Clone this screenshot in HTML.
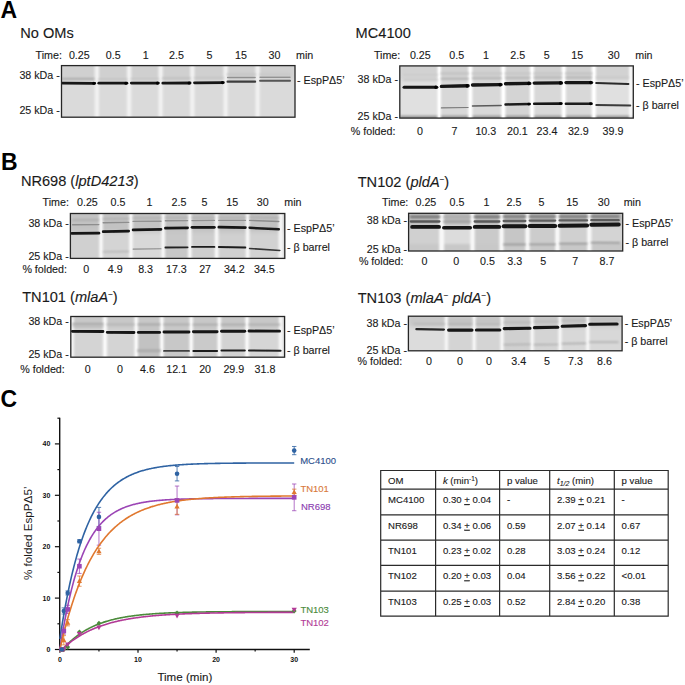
<!DOCTYPE html>
<html><head><meta charset="utf-8"><title>Figure</title>
<style>html,body{margin:0;padding:0;background:#fff;width:685px;height:685px;overflow:hidden}svg{display:block}</style>
</head><body>
<svg width="685" height="685" viewBox="0 0 685 685" font-family='"Liberation Sans", sans-serif'>
<defs>
<filter id="bl05" filterUnits="userSpaceOnUse" x="0" y="0" width="685" height="685"><feGaussianBlur stdDeviation="0.45"/></filter>
<filter id="bl08" filterUnits="userSpaceOnUse" x="0" y="0" width="685" height="685"><feGaussianBlur stdDeviation="0.8"/></filter>
<filter id="bl2" filterUnits="userSpaceOnUse" x="0" y="0" width="685" height="685"><feGaussianBlur stdDeviation="2"/></filter>
<filter id="bl1" filterUnits="userSpaceOnUse" x="0" y="0" width="685" height="685"><feGaussianBlur stdDeviation="0.9"/></filter>
<linearGradient id="vshade" x1="0" y1="0" x2="0" y2="1"><stop offset="0" stop-color="#000"/><stop offset="0.35" stop-color="#000" stop-opacity="0.2"/><stop offset="0.85" stop-color="#000" stop-opacity="0"/><stop offset="1" stop-color="#000" stop-opacity="0.5"/></linearGradient>
<clipPath id="cg1"><rect x="61.5" y="65.6" width="233.5" height="51.60000000000001"/></clipPath><clipPath id="cg2"><rect x="399.8" y="65.9" width="233.49999999999994" height="52.19999999999999"/></clipPath><clipPath id="cg3"><rect x="70.4" y="213.5" width="214.4" height="44.89999999999998"/></clipPath><clipPath id="cg4"><rect x="408.6" y="213.3" width="214.10000000000002" height="37.69999999999999"/></clipPath><clipPath id="cg5"><rect x="70.8" y="316.5" width="213.8" height="40.69999999999999"/></clipPath><clipPath id="cg6"><rect x="408.4" y="316.2" width="213.70000000000005" height="34.60000000000002"/></clipPath>
</defs>
<rect width="685" height="685" fill="#fff"/>
<text x="0.60" y="17.70" font-size="23" font-weight="bold" fill="#000">A</text>
<text x="20.20" y="38.00" font-size="14.6" fill="#1a1a1a" stroke="#1a1a1a" stroke-width="0.12">No OMs</text>
<text x="355.60" y="38.30" font-size="14.6" fill="#1a1a1a" stroke="#1a1a1a" stroke-width="0.12">MC4100</text>
<text x="35.60" y="58.60" font-size="10.7" fill="#1a1a1a" stroke="#1a1a1a" stroke-width="0.12">Time:</text>
<text x="79.30" y="58.60" font-size="10.7" text-anchor="middle" fill="#1a1a1a" stroke="#1a1a1a" stroke-width="0.12">0.25</text>
<text x="113.20" y="58.60" font-size="10.7" text-anchor="middle" fill="#1a1a1a" stroke="#1a1a1a" stroke-width="0.12">0.5</text>
<text x="145.80" y="58.60" font-size="10.7" text-anchor="middle" fill="#1a1a1a" stroke="#1a1a1a" stroke-width="0.12">1</text>
<text x="176.40" y="58.60" font-size="10.7" text-anchor="middle" fill="#1a1a1a" stroke="#1a1a1a" stroke-width="0.12">2.5</text>
<text x="209.40" y="58.60" font-size="10.7" text-anchor="middle" fill="#1a1a1a" stroke="#1a1a1a" stroke-width="0.12">5</text>
<text x="241.00" y="58.60" font-size="10.7" text-anchor="middle" fill="#1a1a1a" stroke="#1a1a1a" stroke-width="0.12">15</text>
<text x="274.50" y="58.60" font-size="10.7" text-anchor="middle" fill="#1a1a1a" stroke="#1a1a1a" stroke-width="0.12">30</text>
<text x="296.00" y="58.60" font-size="10.7" fill="#1a1a1a" stroke="#1a1a1a" stroke-width="0.12">min</text>
<text x="373.90" y="59.40" font-size="10.7" fill="#1a1a1a" stroke="#1a1a1a" stroke-width="0.12">Time:</text>
<text x="420.30" y="59.40" font-size="10.7" text-anchor="middle" fill="#1a1a1a" stroke="#1a1a1a" stroke-width="0.12">0.25</text>
<text x="456.70" y="59.40" font-size="10.7" text-anchor="middle" fill="#1a1a1a" stroke="#1a1a1a" stroke-width="0.12">0.5</text>
<text x="486.00" y="59.40" font-size="10.7" text-anchor="middle" fill="#1a1a1a" stroke="#1a1a1a" stroke-width="0.12">1</text>
<text x="517.70" y="59.40" font-size="10.7" text-anchor="middle" fill="#1a1a1a" stroke="#1a1a1a" stroke-width="0.12">2.5</text>
<text x="546.70" y="59.40" font-size="10.7" text-anchor="middle" fill="#1a1a1a" stroke="#1a1a1a" stroke-width="0.12">5</text>
<text x="577.20" y="59.40" font-size="10.7" text-anchor="middle" fill="#1a1a1a" stroke="#1a1a1a" stroke-width="0.12">15</text>
<text x="613.70" y="59.40" font-size="10.7" text-anchor="middle" fill="#1a1a1a" stroke="#1a1a1a" stroke-width="0.12">30</text>
<text x="635.30" y="59.40" font-size="10.7" fill="#1a1a1a" stroke="#1a1a1a" stroke-width="0.12">min</text>
<text x="59.80" y="78.50" font-size="10.7" text-anchor="end" fill="#1a1a1a" stroke="#1a1a1a" stroke-width="0.12">38 kDa -</text>
<text x="59.80" y="113.50" font-size="10.7" text-anchor="end" fill="#1a1a1a" stroke="#1a1a1a" stroke-width="0.12">25 kDa -</text>
<text x="398.00" y="82.80" font-size="10.7" text-anchor="end" fill="#1a1a1a" stroke="#1a1a1a" stroke-width="0.12">38 kDa -</text>
<text x="398.00" y="120.20" font-size="10.7" text-anchor="end" fill="#1a1a1a" stroke="#1a1a1a" stroke-width="0.12">25 kDa -</text>
<text x="297.00" y="84.10" font-size="10.7" fill="#1a1a1a" stroke="#1a1a1a" stroke-width="0.12">- EspPΔ5’</text>
<text x="636.00" y="86.60" font-size="10.7" fill="#1a1a1a" stroke="#1a1a1a" stroke-width="0.12">- EspPΔ5’</text>
<text x="636.00" y="109.00" font-size="10.7" fill="#1a1a1a" stroke="#1a1a1a" stroke-width="0.12">- β barrel</text>
<text x="350.80" y="134.50" font-size="10.7" fill="#1a1a1a" stroke="#1a1a1a" stroke-width="0.12">% folded:</text>
<text x="420.10" y="134.50" font-size="10.7" text-anchor="middle" fill="#1a1a1a" stroke="#1a1a1a" stroke-width="0.12">0</text>
<text x="454.60" y="134.50" font-size="10.7" text-anchor="middle" fill="#1a1a1a" stroke="#1a1a1a" stroke-width="0.12">7</text>
<text x="485.80" y="134.50" font-size="10.7" text-anchor="middle" fill="#1a1a1a" stroke="#1a1a1a" stroke-width="0.12">10.3</text>
<text x="517.40" y="134.50" font-size="10.7" text-anchor="middle" fill="#1a1a1a" stroke="#1a1a1a" stroke-width="0.12">20.1</text>
<text x="547.00" y="134.50" font-size="10.7" text-anchor="middle" fill="#1a1a1a" stroke="#1a1a1a" stroke-width="0.12">23.4</text>
<text x="578.30" y="134.50" font-size="10.7" text-anchor="middle" fill="#1a1a1a" stroke="#1a1a1a" stroke-width="0.12">32.9</text>
<text x="613.00" y="134.50" font-size="10.7" text-anchor="middle" fill="#1a1a1a" stroke="#1a1a1a" stroke-width="0.12">39.9</text>
<g clip-path="url(#cg1)">
<rect x="61.5" y="65.6" width="233.5" height="51.60000000000001" fill="#dadada"/>
<rect x="61.5" y="62.599999999999994" width="233.5" height="17.400000000000006" fill="#d0d0d0" filter="url(#bl2)"/>
<rect x="94.50" y="63.599999999999994" width="4.60" height="55.60000000000001" fill="#f0f0f0" filter="url(#bl1)"/>
<rect x="95.79" y="63.599999999999994" width="2.02" height="55.60000000000001" fill="#f0f0f0" opacity="0.8" filter="url(#bl05)"/>
<rect x="126.80" y="63.599999999999994" width="4.60" height="55.60000000000001" fill="#f0f0f0" filter="url(#bl1)"/>
<rect x="128.09" y="63.599999999999994" width="2.02" height="55.60000000000001" fill="#f0f0f0" opacity="0.8" filter="url(#bl05)"/>
<rect x="158.30" y="63.599999999999994" width="4.60" height="55.60000000000001" fill="#f0f0f0" filter="url(#bl1)"/>
<rect x="159.59" y="63.599999999999994" width="2.02" height="55.60000000000001" fill="#f0f0f0" opacity="0.8" filter="url(#bl05)"/>
<rect x="190.00" y="63.599999999999994" width="4.60" height="55.60000000000001" fill="#f0f0f0" filter="url(#bl1)"/>
<rect x="191.29" y="63.599999999999994" width="2.02" height="55.60000000000001" fill="#f0f0f0" opacity="0.8" filter="url(#bl05)"/>
<rect x="223.30" y="63.599999999999994" width="4.60" height="55.60000000000001" fill="#f0f0f0" filter="url(#bl1)"/>
<rect x="224.59" y="63.599999999999994" width="2.02" height="55.60000000000001" fill="#f0f0f0" opacity="0.8" filter="url(#bl05)"/>
<rect x="255.30" y="63.599999999999994" width="4.60" height="55.60000000000001" fill="#f0f0f0" filter="url(#bl1)"/>
<rect x="256.59" y="63.599999999999994" width="2.02" height="55.60000000000001" fill="#f0f0f0" opacity="0.8" filter="url(#bl05)"/>
<path d="M62.50,83.10 L94.80,83.30" stroke="#151515" stroke-width="2.8000000000000003" stroke-linecap="round" fill="none" filter="url(#bl05)"/>
<ellipse cx="93.80" cy="83.30" rx="1.6" ry="1.57" fill="#050505" filter="url(#bl05)"/>
<path d="M62.50,78.80 L93.80,78.80" stroke="#a4a4a4" stroke-width="1.8" stroke-linecap="round" fill="none" filter="url(#bl08)"/>
<path d="M98.80,83.20 L126.90,83.20" stroke="#151515" stroke-width="2.8000000000000003" stroke-linecap="round" fill="none" filter="url(#bl05)"/>
<ellipse cx="125.90" cy="83.20" rx="1.6" ry="1.57" fill="#050505" filter="url(#bl05)"/>
<path d="M99.00,79.20 L126.90,79.20" stroke="#bcbcbc" stroke-width="1.6" stroke-linecap="round" fill="none" filter="url(#bl08)"/>
<path d="M131.30,83.10 L158.40,83.10" stroke="#151515" stroke-width="2.8000000000000003" stroke-linecap="round" fill="none" filter="url(#bl05)"/>
<ellipse cx="157.40" cy="83.10" rx="1.6" ry="1.57" fill="#050505" filter="url(#bl05)"/>
<path d="M131.30,78.80 L158.40,78.80" stroke="#c0c0c0" stroke-width="1.6" stroke-linecap="round" fill="none" filter="url(#bl08)"/>
<path d="M162.80,83.20 L190.10,83.00" stroke="#151515" stroke-width="2.8000000000000003" stroke-linecap="round" fill="none" filter="url(#bl05)"/>
<ellipse cx="189.10" cy="83.00" rx="1.6" ry="1.57" fill="#050505" filter="url(#bl05)"/>
<path d="M162.80,78.40 L190.10,78.40" stroke="#bababa" stroke-width="1.6" stroke-linecap="round" fill="none" filter="url(#bl08)"/>
<path d="M194.50,82.80 L223.40,82.60" stroke="#151515" stroke-width="2.8000000000000003" stroke-linecap="round" fill="none" filter="url(#bl05)"/>
<ellipse cx="222.40" cy="82.60" rx="1.6" ry="1.57" fill="#050505" filter="url(#bl05)"/>
<path d="M194.50,78.00 L223.40,78.00" stroke="#c0c0c0" stroke-width="1.6" stroke-linecap="round" fill="none" filter="url(#bl08)"/>
<path d="M227.60,81.70 L255.10,81.70" stroke="#3c3c3c" stroke-width="2.1849999999999996" stroke-linecap="round" fill="none" filter="url(#bl05)"/>
<path d="M227.60,77.50 L255.10,77.50" stroke="#8e8e8e" stroke-width="1.4" stroke-linecap="round" fill="none" filter="url(#bl05)"/>
<path d="M227.60,74.50 L255.10,74.50" stroke="#c4c4c4" stroke-width="2.0" stroke-linecap="round" fill="none" filter="url(#bl08)"/>
<path d="M260.10,80.80 L290.00,80.80" stroke="#565656" stroke-width="2.07" stroke-linecap="round" fill="none" filter="url(#bl05)"/>
<path d="M260.10,77.30 L290.00,77.30" stroke="#909090" stroke-width="1.4" stroke-linecap="round" fill="none" filter="url(#bl05)"/>
<path d="M260.10,74.50 L290.00,74.50" stroke="#c8c8c8" stroke-width="2.0" stroke-linecap="round" fill="none" filter="url(#bl08)"/>
</g>
<rect x="61.5" y="65.6" width="233.5" height="51.60000000000001" fill="none" stroke="#262626" stroke-width="1.3"/>
<g clip-path="url(#cg2)">
<rect x="399.8" y="65.9" width="233.49999999999994" height="52.19999999999999" fill="#dedede"/>
<rect x="399.80" y="65.9" width="39.40" height="52.19999999999999" fill="#e0e0e0"/>
<rect x="439.20" y="65.9" width="31.10" height="52.19999999999999" fill="#d8d8d8"/>
<rect x="470.30" y="65.9" width="33.00" height="52.19999999999999" fill="#d8d8d8"/>
<rect x="503.30" y="65.9" width="28.70" height="52.19999999999999" fill="#d4d4d4"/>
<rect x="532.00" y="65.9" width="31.70" height="52.19999999999999" fill="#d8d8d8"/>
<rect x="563.70" y="65.9" width="30.10" height="52.19999999999999" fill="#d8d8d8"/>
<rect x="593.80" y="65.9" width="39.50" height="52.19999999999999" fill="#e0e0e0"/>
<rect x="399.8" y="62.900000000000006" width="233.49999999999994" height="17.099999999999994" fill="#d2d2d2" filter="url(#bl2)"/>
<rect x="399.8" y="115.6" width="233.49999999999994" height="5.5" fill="#9a9a9a" filter="url(#bl08)"/>
<rect x="437.50" y="63.900000000000006" width="3.40" height="56.19999999999999" fill="#ffffff" filter="url(#bl1)"/>
<rect x="438.45" y="63.900000000000006" width="1.50" height="56.19999999999999" fill="#ffffff" opacity="0.8" filter="url(#bl05)"/>
<rect x="468.20" y="63.900000000000006" width="4.20" height="56.19999999999999" fill="#ffffff" filter="url(#bl1)"/>
<rect x="469.38" y="63.900000000000006" width="1.85" height="56.19999999999999" fill="#ffffff" opacity="0.8" filter="url(#bl05)"/>
<rect x="501.20" y="63.900000000000006" width="4.20" height="56.19999999999999" fill="#ffffff" filter="url(#bl1)"/>
<rect x="502.38" y="63.900000000000006" width="1.85" height="56.19999999999999" fill="#ffffff" opacity="0.8" filter="url(#bl05)"/>
<rect x="529.90" y="63.900000000000006" width="4.20" height="56.19999999999999" fill="#ffffff" filter="url(#bl1)"/>
<rect x="531.08" y="63.900000000000006" width="1.85" height="56.19999999999999" fill="#ffffff" opacity="0.8" filter="url(#bl05)"/>
<rect x="561.60" y="63.900000000000006" width="4.20" height="56.19999999999999" fill="#ffffff" filter="url(#bl1)"/>
<rect x="562.78" y="63.900000000000006" width="1.85" height="56.19999999999999" fill="#ffffff" opacity="0.8" filter="url(#bl05)"/>
<rect x="591.70" y="63.900000000000006" width="4.20" height="56.19999999999999" fill="#ffffff" filter="url(#bl1)"/>
<rect x="592.88" y="63.900000000000006" width="1.85" height="56.19999999999999" fill="#ffffff" opacity="0.8" filter="url(#bl05)"/>
<rect x="629.30" y="63.900000000000006" width="3.00" height="56.19999999999999" fill="#ffffff" filter="url(#bl1)"/>
<path d="M404.10,87.20 L436.80,87.20" stroke="#151515" stroke-width="3.136" stroke-linecap="round" fill="none" filter="url(#bl05)"/>
<ellipse cx="435.80" cy="87.20" rx="1.6" ry="1.76" fill="#050505" filter="url(#bl05)"/>
<path d="M403.80,79.80 L437.20,79.80" stroke="#c4c4c4" stroke-width="1.6" stroke-linecap="round" fill="none" filter="url(#bl08)"/>
<path d="M403.80,74.70 L437.20,74.70" stroke="#cacaca" stroke-width="1.6" stroke-linecap="round" fill="none" filter="url(#bl08)"/>
<path d="M441.40,86.40 L468.10,85.80" stroke="#151515" stroke-width="3.3600000000000003" stroke-linecap="round" fill="none" filter="url(#bl05)"/>
<ellipse cx="467.10" cy="85.80" rx="1.6" ry="1.88" fill="#050505" filter="url(#bl05)"/>
<path d="M441.40,78.80 L468.10,78.80" stroke="#a8a8a8" stroke-width="1.6" stroke-linecap="round" fill="none" filter="url(#bl08)"/>
<path d="M441.40,107.90 L468.10,107.50" stroke="#7a7a7a" stroke-width="1.2" stroke-linecap="round" fill="none" filter="url(#bl05)"/>
<path d="M441.40,73.40 L468.10,73.40" stroke="#c0c0c0" stroke-width="2.0" stroke-linecap="round" fill="none" filter="url(#bl08)"/>
<path d="M472.50,85.00 L501.10,84.60" stroke="#151515" stroke-width="3.3600000000000003" stroke-linecap="round" fill="none" filter="url(#bl05)"/>
<ellipse cx="500.10" cy="84.60" rx="1.6" ry="1.88" fill="#050505" filter="url(#bl05)"/>
<path d="M472.50,78.30 L501.10,78.30" stroke="#aaaaaa" stroke-width="1.6" stroke-linecap="round" fill="none" filter="url(#bl08)"/>
<path d="M472.50,105.90 L501.10,105.50" stroke="#5a5a5a" stroke-width="1.4949999999999999" stroke-linecap="round" fill="none" filter="url(#bl05)"/>
<path d="M472.50,73.40 L501.10,73.40" stroke="#c4c4c4" stroke-width="2.0" stroke-linecap="round" fill="none" filter="url(#bl08)"/>
<path d="M505.50,83.80 L529.80,83.40" stroke="#151515" stroke-width="3.3600000000000003" stroke-linecap="round" fill="none" filter="url(#bl05)"/>
<ellipse cx="528.80" cy="83.40" rx="1.6" ry="1.88" fill="#050505" filter="url(#bl05)"/>
<path d="M505.50,77.80 L529.80,77.80" stroke="#acacac" stroke-width="1.6" stroke-linecap="round" fill="none" filter="url(#bl08)"/>
<path d="M505.50,104.40 L529.80,104.10" stroke="#1e1e1e" stroke-width="2.4640000000000004" stroke-linecap="round" fill="none" filter="url(#bl05)"/>
<ellipse cx="528.80" cy="104.10" rx="1.6" ry="1.38" fill="#050505" filter="url(#bl05)"/>
<path d="M505.50,73.60 L529.80,73.60" stroke="#c4c4c4" stroke-width="2.0" stroke-linecap="round" fill="none" filter="url(#bl08)"/>
<path d="M534.20,83.10 L561.50,82.90" stroke="#151515" stroke-width="3.3600000000000003" stroke-linecap="round" fill="none" filter="url(#bl05)"/>
<ellipse cx="560.50" cy="82.90" rx="1.6" ry="1.88" fill="#050505" filter="url(#bl05)"/>
<path d="M534.20,77.50 L561.50,77.50" stroke="#acacac" stroke-width="1.6" stroke-linecap="round" fill="none" filter="url(#bl08)"/>
<path d="M534.20,103.80 L561.50,103.60" stroke="#161616" stroke-width="2.576" stroke-linecap="round" fill="none" filter="url(#bl05)"/>
<ellipse cx="560.50" cy="103.60" rx="1.6" ry="1.44" fill="#050505" filter="url(#bl05)"/>
<path d="M534.20,73.60 L561.50,73.60" stroke="#c4c4c4" stroke-width="2.0" stroke-linecap="round" fill="none" filter="url(#bl08)"/>
<path d="M565.90,82.60 L591.60,82.60" stroke="#151515" stroke-width="3.136" stroke-linecap="round" fill="none" filter="url(#bl05)"/>
<ellipse cx="590.60" cy="82.60" rx="1.6" ry="1.76" fill="#050505" filter="url(#bl05)"/>
<path d="M565.90,77.50 L591.60,77.50" stroke="#a8a8a8" stroke-width="1.6" stroke-linecap="round" fill="none" filter="url(#bl08)"/>
<path d="M565.90,103.70 L591.60,103.70" stroke="#1a1a1a" stroke-width="2.576" stroke-linecap="round" fill="none" filter="url(#bl05)"/>
<ellipse cx="590.60" cy="103.70" rx="1.6" ry="1.44" fill="#050505" filter="url(#bl05)"/>
<path d="M565.90,73.60 L591.60,73.60" stroke="#c0c0c0" stroke-width="2.0" stroke-linecap="round" fill="none" filter="url(#bl08)"/>
<path d="M596.30,83.00 L628.30,84.00" stroke="#2a2a2a" stroke-width="2.24" stroke-linecap="round" fill="none" filter="url(#bl05)"/>
<path d="M596.30,105.00 L630.30,105.50" stroke="#3a3a3a" stroke-width="1.9549999999999998" stroke-linecap="round" fill="none" filter="url(#bl05)"/>
<path d="M596.30,77.50 L628.30,77.50" stroke="#c4c4c4" stroke-width="1.4" stroke-linecap="round" fill="none" filter="url(#bl08)"/>
</g>
<rect x="399.8" y="65.9" width="233.49999999999994" height="52.19999999999999" fill="none" stroke="#262626" stroke-width="1.3"/>
<text x="0.90" y="170.10" font-size="23" font-weight="bold" fill="#000">B</text>
<text x="20.90" y="186.10" font-size="14.6" fill="#1a1a1a" stroke="#1a1a1a" stroke-width="0.12">NR698 (<tspan font-style="italic">lptD4213</tspan>)</text>
<text x="357.70" y="186.90" font-size="14.6" fill="#1a1a1a" stroke="#1a1a1a" stroke-width="0.12">TN102 (<tspan font-style="italic">pldA</tspan><tspan font-size="8" dy="-5.2">−</tspan><tspan dy="5.2">)</tspan></text>
<text x="22.20" y="302.30" font-size="14.6" fill="#1a1a1a" stroke="#1a1a1a" stroke-width="0.12">TN101 (<tspan font-style="italic">mlaA</tspan><tspan font-size="8" dy="-5.2">−</tspan><tspan dy="5.2">)</tspan></text>
<text x="357.70" y="302.90" font-size="14.6" fill="#1a1a1a" stroke="#1a1a1a" stroke-width="0.12">TN103 (<tspan font-style="italic">mlaA</tspan><tspan font-size="8" dy="-5.2">−</tspan><tspan dy="5.2" font-style="italic"> pldA</tspan><tspan font-size="8" dy="-5.2">−</tspan><tspan dy="5.2">)</tspan></text>
<text x="42.60" y="206.40" font-size="10.7" fill="#1a1a1a" stroke="#1a1a1a" stroke-width="0.12">Time:</text>
<text x="87.40" y="206.40" font-size="10.7" text-anchor="middle" fill="#1a1a1a" stroke="#1a1a1a" stroke-width="0.12">0.25</text>
<text x="117.90" y="206.40" font-size="10.7" text-anchor="middle" fill="#1a1a1a" stroke="#1a1a1a" stroke-width="0.12">0.5</text>
<text x="149.50" y="206.40" font-size="10.7" text-anchor="middle" fill="#1a1a1a" stroke="#1a1a1a" stroke-width="0.12">1</text>
<text x="178.90" y="206.40" font-size="10.7" text-anchor="middle" fill="#1a1a1a" stroke="#1a1a1a" stroke-width="0.12">2.5</text>
<text x="204.50" y="206.40" font-size="10.7" text-anchor="middle" fill="#1a1a1a" stroke="#1a1a1a" stroke-width="0.12">5</text>
<text x="232.30" y="206.40" font-size="10.7" text-anchor="middle" fill="#1a1a1a" stroke="#1a1a1a" stroke-width="0.12">15</text>
<text x="262.70" y="206.40" font-size="10.7" text-anchor="middle" fill="#1a1a1a" stroke="#1a1a1a" stroke-width="0.12">30</text>
<text x="284.30" y="206.40" font-size="10.7" fill="#1a1a1a" stroke="#1a1a1a" stroke-width="0.12">min</text>
<text x="382.00" y="206.40" font-size="10.7" fill="#1a1a1a" stroke="#1a1a1a" stroke-width="0.12">Time:</text>
<text x="425.90" y="206.40" font-size="10.7" text-anchor="middle" fill="#1a1a1a" stroke="#1a1a1a" stroke-width="0.12">0.25</text>
<text x="456.90" y="206.40" font-size="10.7" text-anchor="middle" fill="#1a1a1a" stroke="#1a1a1a" stroke-width="0.12">0.5</text>
<text x="486.40" y="206.40" font-size="10.7" text-anchor="middle" fill="#1a1a1a" stroke="#1a1a1a" stroke-width="0.12">1</text>
<text x="514.00" y="206.40" font-size="10.7" text-anchor="middle" fill="#1a1a1a" stroke="#1a1a1a" stroke-width="0.12">2.5</text>
<text x="541.60" y="206.40" font-size="10.7" text-anchor="middle" fill="#1a1a1a" stroke="#1a1a1a" stroke-width="0.12">5</text>
<text x="572.30" y="206.40" font-size="10.7" text-anchor="middle" fill="#1a1a1a" stroke="#1a1a1a" stroke-width="0.12">15</text>
<text x="603.80" y="206.40" font-size="10.7" text-anchor="middle" fill="#1a1a1a" stroke="#1a1a1a" stroke-width="0.12">30</text>
<text x="623.70" y="206.40" font-size="10.7" fill="#1a1a1a" stroke="#1a1a1a" stroke-width="0.12">min</text>
<text x="68.80" y="227.30" font-size="10.7" text-anchor="end" fill="#1a1a1a" stroke="#1a1a1a" stroke-width="0.12">38 kDa -</text>
<text x="68.80" y="259.70" font-size="10.7" text-anchor="end" fill="#1a1a1a" stroke="#1a1a1a" stroke-width="0.12">25 kDa -</text>
<text x="407.20" y="224.00" font-size="10.7" text-anchor="end" fill="#1a1a1a" stroke="#1a1a1a" stroke-width="0.12">38 kDa -</text>
<text x="407.20" y="253.30" font-size="10.7" text-anchor="end" fill="#1a1a1a" stroke="#1a1a1a" stroke-width="0.12">25 kDa -</text>
<text x="68.80" y="325.00" font-size="10.7" text-anchor="end" fill="#1a1a1a" stroke="#1a1a1a" stroke-width="0.12">38 kDa -</text>
<text x="68.80" y="357.70" font-size="10.7" text-anchor="end" fill="#1a1a1a" stroke="#1a1a1a" stroke-width="0.12">25 kDa -</text>
<text x="407.00" y="326.90" font-size="10.7" text-anchor="end" fill="#1a1a1a" stroke="#1a1a1a" stroke-width="0.12">38 kDa -</text>
<text x="407.00" y="353.60" font-size="10.7" text-anchor="end" fill="#1a1a1a" stroke="#1a1a1a" stroke-width="0.12">25 kDa -</text>
<text x="287.00" y="232.10" font-size="10.7" fill="#1a1a1a" stroke="#1a1a1a" stroke-width="0.12">- EspPΔ5’</text>
<text x="287.00" y="251.30" font-size="10.7" fill="#1a1a1a" stroke="#1a1a1a" stroke-width="0.12">- β barrel</text>
<text x="625.50" y="227.10" font-size="10.7" fill="#1a1a1a" stroke="#1a1a1a" stroke-width="0.12">- EspPΔ5’</text>
<text x="625.50" y="246.10" font-size="10.7" fill="#1a1a1a" stroke="#1a1a1a" stroke-width="0.12">- β barrel</text>
<text x="287.00" y="333.80" font-size="10.7" fill="#1a1a1a" stroke="#1a1a1a" stroke-width="0.12">- EspPΔ5’</text>
<text x="287.00" y="353.50" font-size="10.7" fill="#1a1a1a" stroke="#1a1a1a" stroke-width="0.12">- β barrel</text>
<text x="624.70" y="326.60" font-size="10.7" fill="#1a1a1a" stroke="#1a1a1a" stroke-width="0.12">- EspPΔ5’</text>
<text x="624.70" y="344.60" font-size="10.7" fill="#1a1a1a" stroke="#1a1a1a" stroke-width="0.12">- β barrel</text>
<text x="22.40" y="273.40" font-size="10.7" fill="#1a1a1a" stroke="#1a1a1a" stroke-width="0.12">% folded:</text>
<text x="86.30" y="273.40" font-size="10.7" text-anchor="middle" fill="#1a1a1a" stroke="#1a1a1a" stroke-width="0.12">0</text>
<text x="115.30" y="273.40" font-size="10.7" text-anchor="middle" fill="#1a1a1a" stroke="#1a1a1a" stroke-width="0.12">4.9</text>
<text x="145.60" y="273.40" font-size="10.7" text-anchor="middle" fill="#1a1a1a" stroke="#1a1a1a" stroke-width="0.12">8.3</text>
<text x="176.40" y="273.40" font-size="10.7" text-anchor="middle" fill="#1a1a1a" stroke="#1a1a1a" stroke-width="0.12">17.3</text>
<text x="205.10" y="273.40" font-size="10.7" text-anchor="middle" fill="#1a1a1a" stroke="#1a1a1a" stroke-width="0.12">27</text>
<text x="234.30" y="273.40" font-size="10.7" text-anchor="middle" fill="#1a1a1a" stroke="#1a1a1a" stroke-width="0.12">34.2</text>
<text x="264.40" y="273.40" font-size="10.7" text-anchor="middle" fill="#1a1a1a" stroke="#1a1a1a" stroke-width="0.12">34.5</text>
<text x="358.90" y="265.40" font-size="10.7" fill="#1a1a1a" stroke="#1a1a1a" stroke-width="0.12">% folded:</text>
<text x="424.50" y="265.40" font-size="10.7" text-anchor="middle" fill="#1a1a1a" stroke="#1a1a1a" stroke-width="0.12">0</text>
<text x="456.30" y="265.40" font-size="10.7" text-anchor="middle" fill="#1a1a1a" stroke="#1a1a1a" stroke-width="0.12">0</text>
<text x="487.40" y="265.40" font-size="10.7" text-anchor="middle" fill="#1a1a1a" stroke="#1a1a1a" stroke-width="0.12">0.5</text>
<text x="514.70" y="265.40" font-size="10.7" text-anchor="middle" fill="#1a1a1a" stroke="#1a1a1a" stroke-width="0.12">3.3</text>
<text x="543.30" y="265.40" font-size="10.7" text-anchor="middle" fill="#1a1a1a" stroke="#1a1a1a" stroke-width="0.12">5</text>
<text x="575.20" y="265.40" font-size="10.7" text-anchor="middle" fill="#1a1a1a" stroke="#1a1a1a" stroke-width="0.12">7</text>
<text x="607.00" y="265.40" font-size="10.7" text-anchor="middle" fill="#1a1a1a" stroke="#1a1a1a" stroke-width="0.12">8.7</text>
<text x="20.20" y="372.80" font-size="10.7" fill="#1a1a1a" stroke="#1a1a1a" stroke-width="0.12">% folded:</text>
<text x="87.80" y="372.80" font-size="10.7" text-anchor="middle" fill="#1a1a1a" stroke="#1a1a1a" stroke-width="0.12">0</text>
<text x="120.00" y="372.80" font-size="10.7" text-anchor="middle" fill="#1a1a1a" stroke="#1a1a1a" stroke-width="0.12">0</text>
<text x="147.50" y="372.80" font-size="10.7" text-anchor="middle" fill="#1a1a1a" stroke="#1a1a1a" stroke-width="0.12">4.6</text>
<text x="176.60" y="372.80" font-size="10.7" text-anchor="middle" fill="#1a1a1a" stroke="#1a1a1a" stroke-width="0.12">12.1</text>
<text x="205.10" y="372.80" font-size="10.7" text-anchor="middle" fill="#1a1a1a" stroke="#1a1a1a" stroke-width="0.12">20</text>
<text x="233.80" y="372.80" font-size="10.7" text-anchor="middle" fill="#1a1a1a" stroke="#1a1a1a" stroke-width="0.12">29.9</text>
<text x="265.00" y="372.80" font-size="10.7" text-anchor="middle" fill="#1a1a1a" stroke="#1a1a1a" stroke-width="0.12">31.8</text>
<text x="357.60" y="365.40" font-size="10.7" fill="#1a1a1a" stroke="#1a1a1a" stroke-width="0.12">% folded:</text>
<text x="428.90" y="365.40" font-size="10.7" text-anchor="middle" fill="#1a1a1a" stroke="#1a1a1a" stroke-width="0.12">0</text>
<text x="460.10" y="365.40" font-size="10.7" text-anchor="middle" fill="#1a1a1a" stroke="#1a1a1a" stroke-width="0.12">0</text>
<text x="489.10" y="365.40" font-size="10.7" text-anchor="middle" fill="#1a1a1a" stroke="#1a1a1a" stroke-width="0.12">0</text>
<text x="518.70" y="365.40" font-size="10.7" text-anchor="middle" fill="#1a1a1a" stroke="#1a1a1a" stroke-width="0.12">3.4</text>
<text x="547.00" y="365.40" font-size="10.7" text-anchor="middle" fill="#1a1a1a" stroke="#1a1a1a" stroke-width="0.12">5</text>
<text x="575.40" y="365.40" font-size="10.7" text-anchor="middle" fill="#1a1a1a" stroke="#1a1a1a" stroke-width="0.12">7.3</text>
<text x="604.50" y="365.40" font-size="10.7" text-anchor="middle" fill="#1a1a1a" stroke="#1a1a1a" stroke-width="0.12">8.6</text>
<g clip-path="url(#cg3)">
<rect x="70.4" y="213.5" width="214.4" height="44.89999999999998" fill="#d2d2d2"/>
<rect x="70.40" y="213.5" width="30.60" height="44.89999999999998" fill="#d0d0d0"/>
<rect x="101.00" y="213.5" width="29.90" height="44.89999999999998" fill="#d4d4d4"/>
<rect x="130.90" y="213.5" width="32.30" height="44.89999999999998" fill="#d8d8d8"/>
<rect x="163.20" y="213.5" width="26.60" height="44.89999999999998" fill="#c8c8c8"/>
<rect x="189.80" y="213.5" width="26.80" height="44.89999999999998" fill="#cecece"/>
<rect x="216.60" y="213.5" width="31.00" height="44.89999999999998" fill="#d0d0d0"/>
<rect x="247.60" y="213.5" width="37.20" height="44.89999999999998" fill="#d2d2d2"/>
<rect x="70.4" y="210.5" width="214.4" height="21.5" fill="#c2c2c2" filter="url(#bl2)"/>
<rect x="99.10" y="211.5" width="3.80" height="48.89999999999998" fill="#f6f6f6" filter="url(#bl1)"/>
<rect x="100.16" y="211.5" width="1.67" height="48.89999999999998" fill="#f6f6f6" opacity="0.8" filter="url(#bl05)"/>
<rect x="129.00" y="211.5" width="3.80" height="48.89999999999998" fill="#f6f6f6" filter="url(#bl1)"/>
<rect x="130.06" y="211.5" width="1.67" height="48.89999999999998" fill="#f6f6f6" opacity="0.8" filter="url(#bl05)"/>
<rect x="161.30" y="211.5" width="3.80" height="48.89999999999998" fill="#f6f6f6" filter="url(#bl1)"/>
<rect x="162.36" y="211.5" width="1.67" height="48.89999999999998" fill="#f6f6f6" opacity="0.8" filter="url(#bl05)"/>
<rect x="187.90" y="211.5" width="3.80" height="48.89999999999998" fill="#f6f6f6" filter="url(#bl1)"/>
<rect x="188.96" y="211.5" width="1.67" height="48.89999999999998" fill="#f6f6f6" opacity="0.8" filter="url(#bl05)"/>
<rect x="214.70" y="211.5" width="3.80" height="48.89999999999998" fill="#f6f6f6" filter="url(#bl1)"/>
<rect x="215.76" y="211.5" width="1.67" height="48.89999999999998" fill="#f6f6f6" opacity="0.8" filter="url(#bl05)"/>
<rect x="245.70" y="211.5" width="3.80" height="48.89999999999998" fill="#f6f6f6" filter="url(#bl1)"/>
<rect x="246.76" y="211.5" width="1.67" height="48.89999999999998" fill="#f6f6f6" opacity="0.8" filter="url(#bl05)"/>
<rect x="278.55" y="211.5" width="4.50" height="48.89999999999998" fill="#f6f6f6" filter="url(#bl1)"/>
<path d="M71.90,233.40 L99.00,233.20" stroke="#151515" stroke-width="2.688" stroke-linecap="round" fill="none" filter="url(#bl05)"/>
<path d="M72.60,224.80 L98.80,224.60" stroke="#8e8e8e" stroke-width="1.4" stroke-linecap="round" fill="none" filter="url(#bl05)"/>
<path d="M72.60,219.80 L98.80,219.80" stroke="#a4a4a4" stroke-width="1.3" stroke-linecap="round" fill="none" filter="url(#bl08)"/>
<path d="M103.20,231.70 L128.70,231.10" stroke="#151515" stroke-width="2.688" stroke-linecap="round" fill="none" filter="url(#bl05)"/>
<path d="M103.20,222.80 L128.70,222.40" stroke="#8e8e8e" stroke-width="1.4" stroke-linecap="round" fill="none" filter="url(#bl05)"/>
<path d="M103.20,218.80 L128.70,218.60" stroke="#a8a8a8" stroke-width="1.3" stroke-linecap="round" fill="none" filter="url(#bl08)"/>
<path d="M103.20,251.90 L128.70,251.50" stroke="#a4a4a4" stroke-width="1.0" stroke-linecap="round" fill="none" filter="url(#bl08)"/>
<path d="M133.10,229.90 L161.00,229.30" stroke="#151515" stroke-width="2.688" stroke-linecap="round" fill="none" filter="url(#bl05)"/>
<path d="M133.10,221.40 L161.00,221.20" stroke="#929292" stroke-width="1.4" stroke-linecap="round" fill="none" filter="url(#bl05)"/>
<path d="M133.10,218.00 L161.00,218.00" stroke="#acacac" stroke-width="1.3" stroke-linecap="round" fill="none" filter="url(#bl08)"/>
<path d="M133.10,249.10 L161.00,248.70" stroke="#8c8c8c" stroke-width="1.1" stroke-linecap="round" fill="none" filter="url(#bl05)"/>
<path d="M165.40,228.20 L187.60,227.80" stroke="#151515" stroke-width="2.688" stroke-linecap="round" fill="none" filter="url(#bl05)"/>
<path d="M165.40,220.80 L187.60,220.60" stroke="#929292" stroke-width="1.4" stroke-linecap="round" fill="none" filter="url(#bl05)"/>
<path d="M165.40,217.60 L187.60,217.60" stroke="#a8a8a8" stroke-width="1.3" stroke-linecap="round" fill="none" filter="url(#bl08)"/>
<path d="M165.40,247.50 L187.60,247.30" stroke="#222222" stroke-width="1.7920000000000003" stroke-linecap="round" fill="none" filter="url(#bl05)"/>
<path d="M192.00,227.30 L214.40,227.30" stroke="#151515" stroke-width="2.688" stroke-linecap="round" fill="none" filter="url(#bl05)"/>
<path d="M192.00,220.60 L214.40,220.40" stroke="#929292" stroke-width="1.4" stroke-linecap="round" fill="none" filter="url(#bl05)"/>
<path d="M192.00,217.60 L214.40,217.60" stroke="#a8a8a8" stroke-width="1.3" stroke-linecap="round" fill="none" filter="url(#bl08)"/>
<path d="M192.00,246.90 L214.40,246.90" stroke="#1c1c1c" stroke-width="1.7920000000000003" stroke-linecap="round" fill="none" filter="url(#bl05)"/>
<path d="M218.80,227.20 L245.40,227.60" stroke="#151515" stroke-width="2.688" stroke-linecap="round" fill="none" filter="url(#bl05)"/>
<path d="M218.80,220.40 L245.40,220.40" stroke="#929292" stroke-width="1.4" stroke-linecap="round" fill="none" filter="url(#bl05)"/>
<path d="M218.80,217.60 L245.40,217.60" stroke="#a8a8a8" stroke-width="1.3" stroke-linecap="round" fill="none" filter="url(#bl08)"/>
<path d="M218.80,247.00 L245.40,247.50" stroke="#1c1c1c" stroke-width="1.7920000000000003" stroke-linecap="round" fill="none" filter="url(#bl05)"/>
<path d="M249.60,227.80 L278.80,229.30" stroke="#1e1e1e" stroke-width="2.4640000000000004" stroke-linecap="round" fill="none" filter="url(#bl05)"/>
<path d="M249.60,220.40 L278.80,221.50" stroke="#8c8c8c" stroke-width="1.4" stroke-linecap="round" fill="none" filter="url(#bl05)"/>
<path d="M249.60,217.40 L278.80,217.80" stroke="#a4a4a4" stroke-width="1.3" stroke-linecap="round" fill="none" filter="url(#bl08)"/>
<path d="M249.60,248.50 L279.80,250.50" stroke="#353535" stroke-width="1.6099999999999999" stroke-linecap="round" fill="none" filter="url(#bl05)"/>
</g>
<rect x="70.4" y="213.5" width="214.4" height="44.89999999999998" fill="none" stroke="#262626" stroke-width="1.3"/>
<g clip-path="url(#cg4)">
<rect x="408.6" y="213.3" width="214.10000000000002" height="37.69999999999999" fill="#d2d2d2"/>
<rect x="408.60" y="213.3" width="33.00" height="37.69999999999999" fill="#d0d0d0"/>
<rect x="441.60" y="213.3" width="30.90" height="37.69999999999999" fill="#dcdcdc"/>
<rect x="472.50" y="213.3" width="29.00" height="37.69999999999999" fill="#cacaca"/>
<rect x="501.50" y="213.3" width="26.00" height="37.69999999999999" fill="#c6c6c6"/>
<rect x="527.50" y="213.3" width="29.90" height="37.69999999999999" fill="#cccccc"/>
<rect x="557.40" y="213.3" width="31.90" height="37.69999999999999" fill="#d0d0d0"/>
<rect x="589.30" y="213.3" width="33.40" height="37.69999999999999" fill="#d4d4d4"/>
<rect x="408.6" y="210.3" width="214.10000000000002" height="14.699999999999989" fill="#b8b8b8" filter="url(#bl2)"/>
<rect x="408.6" y="244.0" width="214.10000000000002" height="10" fill="#c8c8c8" filter="url(#bl08)"/>
<rect x="439.10" y="211.3" width="5.00" height="41.69999999999999" fill="#f8f8f8" filter="url(#bl1)"/>
<rect x="440.50" y="211.3" width="2.20" height="41.69999999999999" fill="#f8f8f8" opacity="0.8" filter="url(#bl05)"/>
<rect x="470.30" y="211.3" width="4.40" height="41.69999999999999" fill="#f8f8f8" filter="url(#bl1)"/>
<rect x="471.53" y="211.3" width="1.94" height="41.69999999999999" fill="#f8f8f8" opacity="0.8" filter="url(#bl05)"/>
<rect x="499.30" y="211.3" width="4.40" height="41.69999999999999" fill="#f8f8f8" filter="url(#bl1)"/>
<rect x="500.53" y="211.3" width="1.94" height="41.69999999999999" fill="#f8f8f8" opacity="0.8" filter="url(#bl05)"/>
<rect x="525.30" y="211.3" width="4.40" height="41.69999999999999" fill="#f8f8f8" filter="url(#bl1)"/>
<rect x="526.53" y="211.3" width="1.94" height="41.69999999999999" fill="#f8f8f8" opacity="0.8" filter="url(#bl05)"/>
<rect x="555.20" y="211.3" width="4.40" height="41.69999999999999" fill="#f8f8f8" filter="url(#bl1)"/>
<rect x="556.43" y="211.3" width="1.94" height="41.69999999999999" fill="#f8f8f8" opacity="0.8" filter="url(#bl05)"/>
<rect x="587.10" y="211.3" width="4.40" height="41.69999999999999" fill="#f8f8f8" filter="url(#bl1)"/>
<rect x="588.33" y="211.3" width="1.94" height="41.69999999999999" fill="#f8f8f8" opacity="0.8" filter="url(#bl05)"/>
<path d="M412.10,226.90 L439.10,226.90" stroke="#151515" stroke-width="3.8080000000000003" stroke-linecap="round" fill="none" filter="url(#bl05)"/>
<path d="M410.80,221.50 L439.40,221.50" stroke="#585858" stroke-width="2.3" stroke-linecap="round" fill="none" filter="url(#bl05)"/>
<path d="M410.80,216.80 L439.40,216.80" stroke="#6c6c6c" stroke-width="2.2" stroke-linecap="round" fill="none" filter="url(#bl08)"/>
<path d="M443.80,227.70 L470.30,227.70" stroke="#151515" stroke-width="3.5840000000000005" stroke-linecap="round" fill="none" filter="url(#bl05)"/>
<path d="M443.80,221.60 L470.30,221.60" stroke="#989898" stroke-width="1.8" stroke-linecap="round" fill="none" filter="url(#bl08)"/>
<path d="M443.80,217.20 L470.30,217.20" stroke="#a8a8a8" stroke-width="1.8" stroke-linecap="round" fill="none" filter="url(#bl08)"/>
<path d="M474.70,226.90 L499.30,226.90" stroke="#151515" stroke-width="3.8080000000000003" stroke-linecap="round" fill="none" filter="url(#bl05)"/>
<path d="M474.70,221.50 L499.30,221.50" stroke="#5a5a5a" stroke-width="2.3" stroke-linecap="round" fill="none" filter="url(#bl05)"/>
<path d="M474.70,216.90 L499.30,216.90" stroke="#6c6c6c" stroke-width="2.2" stroke-linecap="round" fill="none" filter="url(#bl08)"/>
<path d="M503.70,226.20 L525.30,226.20" stroke="#151515" stroke-width="4.032000000000001" stroke-linecap="round" fill="none" filter="url(#bl05)"/>
<path d="M503.70,221.00 L525.30,221.00" stroke="#5e5e5e" stroke-width="2.3" stroke-linecap="round" fill="none" filter="url(#bl05)"/>
<path d="M503.70,216.60 L525.30,216.60" stroke="#707070" stroke-width="2.2" stroke-linecap="round" fill="none" filter="url(#bl08)"/>
<path d="M503.70,244.50 L525.30,244.50" stroke="#8e8e8e" stroke-width="1.3" stroke-linecap="round" fill="none" filter="url(#bl08)"/>
<path d="M529.70,226.00 L555.20,226.00" stroke="#151515" stroke-width="4.032000000000001" stroke-linecap="round" fill="none" filter="url(#bl05)"/>
<path d="M529.70,220.60 L555.20,220.60" stroke="#5e5e5e" stroke-width="2.3" stroke-linecap="round" fill="none" filter="url(#bl05)"/>
<path d="M529.70,216.60 L555.20,216.60" stroke="#707070" stroke-width="2.2" stroke-linecap="round" fill="none" filter="url(#bl08)"/>
<path d="M529.70,244.40 L555.20,244.40" stroke="#8a8a8a" stroke-width="1.3" stroke-linecap="round" fill="none" filter="url(#bl08)"/>
<path d="M559.60,225.70 L587.10,225.50" stroke="#151515" stroke-width="4.032000000000001" stroke-linecap="round" fill="none" filter="url(#bl05)"/>
<path d="M559.60,220.40 L587.10,220.40" stroke="#5e5e5e" stroke-width="2.3" stroke-linecap="round" fill="none" filter="url(#bl05)"/>
<path d="M559.60,216.60 L587.10,216.60" stroke="#707070" stroke-width="2.2" stroke-linecap="round" fill="none" filter="url(#bl08)"/>
<path d="M559.60,243.60 L587.10,243.60" stroke="#848484" stroke-width="1.3" stroke-linecap="round" fill="none" filter="url(#bl08)"/>
<path d="M591.30,224.80 L618.70,224.60" stroke="#151515" stroke-width="4.032000000000001" stroke-linecap="round" fill="none" filter="url(#bl05)"/>
<path d="M591.30,220.20 L618.70,220.20" stroke="#5a5a5a" stroke-width="2.3" stroke-linecap="round" fill="none" filter="url(#bl05)"/>
<path d="M591.30,216.50 L618.70,216.50" stroke="#6c6c6c" stroke-width="2.2" stroke-linecap="round" fill="none" filter="url(#bl08)"/>
<path d="M591.30,242.70 L619.70,242.90" stroke="#808080" stroke-width="1.3" stroke-linecap="round" fill="none" filter="url(#bl08)"/>
</g>
<rect x="408.6" y="213.3" width="214.10000000000002" height="37.69999999999999" fill="none" stroke="#262626" stroke-width="1.3"/>
<g clip-path="url(#cg5)">
<rect x="70.8" y="316.5" width="213.8" height="40.69999999999999" fill="#d6d6d6"/>
<rect x="70.80" y="316.5" width="34.20" height="40.69999999999999" fill="#d4d4d4"/>
<rect x="105.00" y="316.5" width="31.20" height="40.69999999999999" fill="#d4d4d4"/>
<rect x="136.20" y="316.5" width="25.60" height="40.69999999999999" fill="#c2c2c2"/>
<rect x="161.80" y="316.5" width="29.40" height="40.69999999999999" fill="#c8c8c8"/>
<rect x="191.20" y="316.5" width="28.10" height="40.69999999999999" fill="#cacaca"/>
<rect x="219.30" y="316.5" width="27.70" height="40.69999999999999" fill="#d2d2d2"/>
<rect x="247.00" y="316.5" width="37.60" height="40.69999999999999" fill="#d6d6d6"/>
<rect x="70.8" y="313.5" width="213.8" height="15.5" fill="#c8c8c8" filter="url(#bl2)"/>
<rect x="70" y="315" width="4" height="44" fill="#f4f4f4" filter="url(#bl1)"/>
<rect x="102.90" y="314.5" width="4.20" height="44.69999999999999" fill="#f8f8f8" filter="url(#bl1)"/>
<rect x="104.08" y="314.5" width="1.85" height="44.69999999999999" fill="#f8f8f8" opacity="0.8" filter="url(#bl05)"/>
<rect x="134.30" y="314.5" width="3.80" height="44.69999999999999" fill="#f8f8f8" filter="url(#bl1)"/>
<rect x="135.36" y="314.5" width="1.67" height="44.69999999999999" fill="#f8f8f8" opacity="0.8" filter="url(#bl05)"/>
<rect x="159.90" y="314.5" width="3.80" height="44.69999999999999" fill="#f8f8f8" filter="url(#bl1)"/>
<rect x="160.96" y="314.5" width="1.67" height="44.69999999999999" fill="#f8f8f8" opacity="0.8" filter="url(#bl05)"/>
<rect x="189.30" y="314.5" width="3.80" height="44.69999999999999" fill="#f8f8f8" filter="url(#bl1)"/>
<rect x="190.36" y="314.5" width="1.67" height="44.69999999999999" fill="#f8f8f8" opacity="0.8" filter="url(#bl05)"/>
<rect x="217.40" y="314.5" width="3.80" height="44.69999999999999" fill="#f8f8f8" filter="url(#bl1)"/>
<rect x="218.46" y="314.5" width="1.67" height="44.69999999999999" fill="#f8f8f8" opacity="0.8" filter="url(#bl05)"/>
<rect x="245.10" y="314.5" width="3.80" height="44.69999999999999" fill="#f8f8f8" filter="url(#bl1)"/>
<rect x="246.16" y="314.5" width="1.67" height="44.69999999999999" fill="#f8f8f8" opacity="0.8" filter="url(#bl05)"/>
<rect x="278.80" y="314.5" width="4.00" height="44.69999999999999" fill="#f8f8f8" filter="url(#bl1)"/>
<path d="M72.30,331.30 L103.00,331.50" stroke="#151515" stroke-width="2.8000000000000003" stroke-linecap="round" fill="none" filter="url(#bl05)"/>
<path d="M73.00,324.00 L102.80,324.00" stroke="#a8a8a8" stroke-width="1.8" stroke-linecap="round" fill="none" filter="url(#bl08)"/>
<path d="M73.00,326.40 L102.80,326.40" stroke="#b4b4b4" stroke-width="1.2" stroke-linecap="round" fill="none" filter="url(#bl08)"/>
<path d="M107.20,332.30 L134.00,332.50" stroke="#151515" stroke-width="2.8000000000000003" stroke-linecap="round" fill="none" filter="url(#bl05)"/>
<path d="M107.20,324.50 L134.00,324.50" stroke="#b0b0b0" stroke-width="1.6" stroke-linecap="round" fill="none" filter="url(#bl08)"/>
<path d="M138.40,332.40 L159.60,332.40" stroke="#151515" stroke-width="2.9120000000000004" stroke-linecap="round" fill="none" filter="url(#bl05)"/>
<path d="M138.40,324.50 L159.60,324.50" stroke="#a6a6a6" stroke-width="1.8" stroke-linecap="round" fill="none" filter="url(#bl08)"/>
<path d="M138.40,350.80 L159.60,350.80" stroke="#a8a8a8" stroke-width="2.4" stroke-linecap="round" fill="none" filter="url(#bl08)"/>
<path d="M164.00,332.00 L189.00,332.00" stroke="#151515" stroke-width="2.9120000000000004" stroke-linecap="round" fill="none" filter="url(#bl05)"/>
<path d="M164.00,324.50 L189.00,324.50" stroke="#a4a4a4" stroke-width="1.6" stroke-linecap="round" fill="none" filter="url(#bl08)"/>
<path d="M164.00,350.90 L189.00,350.90" stroke="#404040" stroke-width="1.8399999999999999" stroke-linecap="round" fill="none" filter="url(#bl05)"/>
<path d="M193.40,331.80 L217.10,331.80" stroke="#151515" stroke-width="2.9120000000000004" stroke-linecap="round" fill="none" filter="url(#bl05)"/>
<path d="M193.40,324.60 L217.10,324.60" stroke="#a8a8a8" stroke-width="1.6" stroke-linecap="round" fill="none" filter="url(#bl08)"/>
<path d="M193.40,351.10 L217.10,351.10" stroke="#1e1e1e" stroke-width="2.0160000000000005" stroke-linecap="round" fill="none" filter="url(#bl05)"/>
<path d="M221.50,331.30 L244.80,331.30" stroke="#151515" stroke-width="2.9120000000000004" stroke-linecap="round" fill="none" filter="url(#bl05)"/>
<path d="M221.50,324.60 L244.80,324.60" stroke="#a8a8a8" stroke-width="1.6" stroke-linecap="round" fill="none" filter="url(#bl08)"/>
<path d="M221.50,350.60 L244.80,350.60" stroke="#1e1e1e" stroke-width="2.0160000000000005" stroke-linecap="round" fill="none" filter="url(#bl05)"/>
<path d="M249.00,331.00 L279.60,331.20" stroke="#151515" stroke-width="2.8000000000000003" stroke-linecap="round" fill="none" filter="url(#bl05)"/>
<path d="M249.00,324.60 L279.60,324.60" stroke="#acacac" stroke-width="1.6" stroke-linecap="round" fill="none" filter="url(#bl08)"/>
<path d="M249.00,350.40 L280.60,350.80" stroke="#222222" stroke-width="2.0160000000000005" stroke-linecap="round" fill="none" filter="url(#bl05)"/>
</g>
<rect x="70.8" y="316.5" width="213.8" height="40.69999999999999" fill="none" stroke="#262626" stroke-width="1.3"/>
<g clip-path="url(#cg6)">
<rect x="408.4" y="316.2" width="213.70000000000005" height="34.60000000000002" fill="#d6d6d6"/>
<rect x="408.40" y="316.2" width="38.00" height="34.60000000000002" fill="#dcdcdc"/>
<rect x="446.40" y="316.2" width="27.80" height="34.60000000000002" fill="#d4d4d4"/>
<rect x="474.20" y="316.2" width="27.80" height="34.60000000000002" fill="#d4d4d4"/>
<rect x="502.00" y="316.2" width="30.20" height="34.60000000000002" fill="#d0d0d0"/>
<rect x="532.20" y="316.2" width="27.80" height="34.60000000000002" fill="#d4d4d4"/>
<rect x="560.00" y="316.2" width="27.70" height="34.60000000000002" fill="#d8d8d8"/>
<rect x="587.70" y="316.2" width="34.40" height="34.60000000000002" fill="#d8d8d8"/>
<rect x="408.4" y="313.2" width="213.70000000000005" height="13.800000000000011" fill="#c8c8c8" filter="url(#bl2)"/>
<rect x="444.60" y="314.2" width="3.60" height="38.60000000000002" fill="#f4f4f4" filter="url(#bl1)"/>
<rect x="445.61" y="314.2" width="1.58" height="38.60000000000002" fill="#f4f4f4" opacity="0.8" filter="url(#bl05)"/>
<rect x="472.40" y="314.2" width="3.60" height="38.60000000000002" fill="#f4f4f4" filter="url(#bl1)"/>
<rect x="473.41" y="314.2" width="1.58" height="38.60000000000002" fill="#f4f4f4" opacity="0.8" filter="url(#bl05)"/>
<rect x="500.20" y="314.2" width="3.60" height="38.60000000000002" fill="#f4f4f4" filter="url(#bl1)"/>
<rect x="501.21" y="314.2" width="1.58" height="38.60000000000002" fill="#f4f4f4" opacity="0.8" filter="url(#bl05)"/>
<rect x="530.40" y="314.2" width="3.60" height="38.60000000000002" fill="#f4f4f4" filter="url(#bl1)"/>
<rect x="531.41" y="314.2" width="1.58" height="38.60000000000002" fill="#f4f4f4" opacity="0.8" filter="url(#bl05)"/>
<rect x="558.20" y="314.2" width="3.60" height="38.60000000000002" fill="#f4f4f4" filter="url(#bl1)"/>
<rect x="559.21" y="314.2" width="1.58" height="38.60000000000002" fill="#f4f4f4" opacity="0.8" filter="url(#bl05)"/>
<rect x="585.90" y="314.2" width="3.60" height="38.60000000000002" fill="#f4f4f4" filter="url(#bl1)"/>
<rect x="586.91" y="314.2" width="1.58" height="38.60000000000002" fill="#f4f4f4" opacity="0.8" filter="url(#bl05)"/>
<path d="M416.40,329.20 L443.90,329.60" stroke="#262626" stroke-width="2.24" stroke-linecap="round" fill="none" filter="url(#bl05)"/>
<path d="M414.40,324.00 L444.40,324.00" stroke="#b4b4b4" stroke-width="1.6" stroke-linecap="round" fill="none" filter="url(#bl08)"/>
<path d="M448.60,330.10 L472.00,330.10" stroke="#151515" stroke-width="3.136" stroke-linecap="round" fill="none" filter="url(#bl05)"/>
<path d="M448.60,324.00 L472.00,324.00" stroke="#a8a8a8" stroke-width="1.6" stroke-linecap="round" fill="none" filter="url(#bl08)"/>
<path d="M448.60,320.80 L472.00,320.80" stroke="#bcbcbc" stroke-width="1.4" stroke-linecap="round" fill="none" filter="url(#bl08)"/>
<path d="M476.40,330.00 L499.80,330.00" stroke="#151515" stroke-width="3.136" stroke-linecap="round" fill="none" filter="url(#bl05)"/>
<path d="M476.40,324.00 L499.80,324.00" stroke="#b0b0b0" stroke-width="1.6" stroke-linecap="round" fill="none" filter="url(#bl08)"/>
<path d="M476.40,320.80 L499.80,320.80" stroke="#c0c0c0" stroke-width="1.4" stroke-linecap="round" fill="none" filter="url(#bl08)"/>
<path d="M504.20,328.60 L530.00,328.20" stroke="#151515" stroke-width="3.136" stroke-linecap="round" fill="none" filter="url(#bl05)"/>
<path d="M504.20,322.50 L530.00,322.50" stroke="#b4b4b4" stroke-width="1.6" stroke-linecap="round" fill="none" filter="url(#bl08)"/>
<path d="M504.20,344.60 L530.00,344.40" stroke="#a8a8a8" stroke-width="1.2" stroke-linecap="round" fill="none" filter="url(#bl08)"/>
<path d="M534.40,327.60 L557.80,327.20" stroke="#151515" stroke-width="3.136" stroke-linecap="round" fill="none" filter="url(#bl05)"/>
<path d="M534.40,321.50 L557.80,321.50" stroke="#b4b4b4" stroke-width="1.6" stroke-linecap="round" fill="none" filter="url(#bl08)"/>
<path d="M534.40,344.70 L557.80,344.50" stroke="#a4a4a4" stroke-width="1.2" stroke-linecap="round" fill="none" filter="url(#bl08)"/>
<path d="M562.20,326.20 L585.50,325.60" stroke="#151515" stroke-width="3.136" stroke-linecap="round" fill="none" filter="url(#bl05)"/>
<path d="M562.20,320.50 L585.50,320.50" stroke="#b4b4b4" stroke-width="1.6" stroke-linecap="round" fill="none" filter="url(#bl08)"/>
<path d="M562.20,343.60 L585.50,343.40" stroke="#a0a0a0" stroke-width="1.2" stroke-linecap="round" fill="none" filter="url(#bl08)"/>
<path d="M589.70,324.30 L617.10,324.00" stroke="#151515" stroke-width="3.136" stroke-linecap="round" fill="none" filter="url(#bl05)"/>
<path d="M589.90,319.50 L619.90,319.50" stroke="#b8b8b8" stroke-width="1.6" stroke-linecap="round" fill="none" filter="url(#bl08)"/>
<path d="M589.70,342.20 L618.10,342.20" stroke="#a4a4a4" stroke-width="1.2" stroke-linecap="round" fill="none" filter="url(#bl08)"/>
</g>
<rect x="408.4" y="316.2" width="213.70000000000005" height="34.60000000000002" fill="none" stroke="#262626" stroke-width="1.3"/>
<text x="0.60" y="406.60" font-size="23" font-weight="bold" fill="#000">C</text>
<path d="M59.7,417.7 V650.2 M59.0,649.5 H309.8" stroke="#111" stroke-width="1.4" fill="none"/>
<path d="M54.90,649.50 H59.7" stroke="#111" stroke-width="1.2"/>
<text x="50.40" y="651.90" font-size="7" text-anchor="end" font-weight="bold" fill="#111">0</text>
<path d="M57.40,623.80 H59.7" stroke="#111" stroke-width="1.2"/>
<path d="M54.90,598.10 H59.7" stroke="#111" stroke-width="1.2"/>
<text x="50.40" y="600.50" font-size="7" text-anchor="end" font-weight="bold" fill="#111">10</text>
<path d="M57.40,572.40 H59.7" stroke="#111" stroke-width="1.2"/>
<path d="M54.90,546.70 H59.7" stroke="#111" stroke-width="1.2"/>
<text x="50.40" y="549.10" font-size="7" text-anchor="end" font-weight="bold" fill="#111">20</text>
<path d="M57.40,521.00 H59.7" stroke="#111" stroke-width="1.2"/>
<path d="M54.90,495.30 H59.7" stroke="#111" stroke-width="1.2"/>
<text x="50.40" y="497.70" font-size="7" text-anchor="end" font-weight="bold" fill="#111">30</text>
<path d="M57.40,469.60 H59.7" stroke="#111" stroke-width="1.2"/>
<path d="M54.90,443.90 H59.7" stroke="#111" stroke-width="1.2"/>
<text x="50.40" y="446.30" font-size="7" text-anchor="end" font-weight="bold" fill="#111">40</text>
<path d="M57.40,418.20 H59.7" stroke="#111" stroke-width="1.2"/>
<path d="M59.90,649.5 V652.70" stroke="#111" stroke-width="1.2"/>
<text x="59.90" y="662.00" font-size="7" text-anchor="middle" font-weight="bold" fill="#111">0</text>
<path d="M98.95,649.5 V651.50" stroke="#111" stroke-width="1.2"/>
<path d="M138.00,649.5 V652.70" stroke="#111" stroke-width="1.2"/>
<text x="138.00" y="662.00" font-size="7" text-anchor="middle" font-weight="bold" fill="#111">10</text>
<path d="M177.05,649.5 V651.50" stroke="#111" stroke-width="1.2"/>
<path d="M216.10,649.5 V652.70" stroke="#111" stroke-width="1.2"/>
<text x="216.10" y="662.00" font-size="7" text-anchor="middle" font-weight="bold" fill="#111">20</text>
<path d="M255.15,649.5 V651.50" stroke="#111" stroke-width="1.2"/>
<path d="M294.20,649.5 V652.70" stroke="#111" stroke-width="1.2"/>
<text x="294.20" y="662.00" font-size="7" text-anchor="middle" font-weight="bold" fill="#111">30</text>
<text x="157.40" y="681.00" font-size="11.6" fill="#1a1a1a" stroke="#1a1a1a" stroke-width="0.12">Time (min)</text>
<text transform="translate(31.7,533.3) rotate(-90)" font-size="11.7" text-anchor="middle" fill="#1a1a1a">% folded EspPΔ5’</text>
<path d="M63.80,607.87 V614.03 M61.60,607.87 H66.00 M61.60,614.03 H66.00" stroke="#2f63a3" stroke-width="1" opacity="0.8" fill="none"/>
<path d="M67.71,590.90 V595.02 M65.51,590.90 H69.91 M65.51,595.02 H69.91" stroke="#2f63a3" stroke-width="1" opacity="0.8" fill="none"/>
<path d="M79.42,539.76 V542.85 M77.22,539.76 H81.62 M77.22,542.85 H81.62" stroke="#2f63a3" stroke-width="1" opacity="0.8" fill="none"/>
<path d="M98.95,507.38 V526.40 M96.75,507.38 H101.15 M96.75,526.40 H101.15" stroke="#2f63a3" stroke-width="1" opacity="0.8" fill="none"/>
<path d="M177.05,466.52 V480.91 M174.85,466.52 H179.25 M174.85,480.91 H179.25" stroke="#2f63a3" stroke-width="1" opacity="0.8" fill="none"/>
<path d="M294.20,446.47 V454.69 M292.00,446.47 H296.40 M292.00,454.69 H296.40" stroke="#2f63a3" stroke-width="1" opacity="0.8" fill="none"/>
<path d="M63.80,627.91 V634.08 M61.60,627.91 H66.00 M61.60,634.08 H66.00" stroke="#9b45b5" stroke-width="1" opacity="0.75" fill="none"/>
<path d="M67.71,605.30 V613.52 M65.51,605.30 H69.91 M65.51,613.52 H69.91" stroke="#9b45b5" stroke-width="1" opacity="0.75" fill="none"/>
<path d="M79.42,559.04 V573.43 M77.22,559.04 H81.62 M77.22,573.43 H81.62" stroke="#9b45b5" stroke-width="1" opacity="0.75" fill="none"/>
<path d="M98.95,512.26 V545.16 M96.75,512.26 H101.15 M96.75,545.16 H101.15" stroke="#9b45b5" stroke-width="1" opacity="0.75" fill="none"/>
<path d="M177.05,486.05 V514.83 M174.85,486.05 H179.25 M174.85,514.83 H179.25" stroke="#9b45b5" stroke-width="1" opacity="0.75" fill="none"/>
<path d="M294.20,483.99 V510.72 M292.00,483.99 H296.40 M292.00,510.72 H296.40" stroke="#9b45b5" stroke-width="1" opacity="0.75" fill="none"/>
<path d="M63.80,635.62 V644.87 M61.60,635.62 H66.00 M61.60,644.87 H66.00" stroke="#e0782f" stroke-width="1" opacity="0.75" fill="none"/>
<path d="M67.71,619.69 V625.86 M65.51,619.69 H69.91 M65.51,625.86 H69.91" stroke="#e0782f" stroke-width="1" opacity="0.75" fill="none"/>
<path d="M79.42,576.00 V586.28 M77.22,576.00 H81.62 M77.22,586.28 H81.62" stroke="#e0782f" stroke-width="1" opacity="0.75" fill="none"/>
<path d="M98.95,548.24 V554.41 M96.75,548.24 H101.15 M96.75,554.41 H101.15" stroke="#e0782f" stroke-width="1" opacity="0.75" fill="none"/>
<path d="M177.05,498.90 V514.32 M174.85,498.90 H179.25 M174.85,514.32 H179.25" stroke="#e0782f" stroke-width="1" opacity="0.75" fill="none"/>
<path d="M294.20,489.13 V495.30 M292.00,489.13 H296.40 M292.00,495.30 H296.40" stroke="#e0782f" stroke-width="1" opacity="0.75" fill="none"/>
<polyline points="59.90,638.81 60.68,633.70 61.46,628.73 62.24,623.91 63.02,619.23 63.80,614.69 64.59,610.28 65.37,605.99 66.15,601.83 66.93,597.80 67.71,593.88 68.49,590.07 69.27,586.37 70.05,582.78 70.83,579.30 71.61,575.92 72.40,572.63 73.18,569.44 73.96,566.35 74.74,563.34 75.52,560.42 76.30,557.59 77.08,554.83 77.86,552.16 78.64,549.57 79.43,547.05 80.21,544.60 80.99,542.23 81.77,539.92 82.55,537.68 83.33,535.51 84.11,533.40 84.89,531.35 85.67,529.36 86.45,527.43 87.24,525.56 88.02,523.74 88.80,521.97 89.58,520.25 90.36,518.58 91.14,516.97 91.92,515.39 92.70,513.87 93.48,512.39 94.26,510.95 95.04,509.55 95.83,508.20 96.61,506.88 97.39,505.60 98.17,504.36 98.95,503.16 99.73,501.99 100.51,500.85 101.29,499.75 102.07,498.68 102.85,497.64 103.64,496.63 104.42,495.65 105.20,494.70 105.98,493.78 106.76,492.88 107.54,492.01 108.32,491.16 109.10,490.34 109.88,489.54 110.66,488.77 111.45,488.02 112.23,487.29 113.01,486.58 113.79,485.89 114.57,485.22 115.35,484.58 116.13,483.95 116.91,483.34 117.69,482.74 118.47,482.17 119.26,481.61 120.04,481.06 120.82,480.54 121.60,480.02 122.38,479.53 123.16,479.04 123.94,478.57 124.72,478.12 125.50,477.68 126.28,477.25 127.07,476.83 127.85,476.43 128.63,476.03 129.41,475.65 130.19,475.28 130.97,474.92 131.75,474.57 132.53,474.24 133.31,473.91 134.09,473.59 134.88,473.28 135.66,472.98 136.44,472.68 137.22,472.40 138.00,472.12 138.78,471.86 139.56,471.60 140.34,471.34 141.12,471.10 141.90,470.86 142.69,470.63 143.47,470.41 144.25,470.19 145.03,469.98 145.81,469.77 146.59,469.57 147.37,469.38 148.15,469.19 148.93,469.01 149.71,468.83 150.50,468.66 151.28,468.49 152.06,468.33 152.84,468.17 153.62,468.02 154.40,467.87 155.18,467.73 155.96,467.59 156.74,467.45 157.52,467.32 158.31,467.19 159.09,467.07 159.87,466.95 160.65,466.83 161.43,466.72 162.21,466.61 162.99,466.50 163.77,466.40 164.55,466.29 165.33,466.20 166.12,466.10 166.90,466.01 167.68,465.92 168.46,465.83 169.24,465.75 170.02,465.66 170.80,465.58 171.58,465.51 172.36,465.43 173.14,465.36 173.93,465.29 174.71,465.22 175.49,465.15 176.27,465.09 177.05,465.02 177.83,464.96 178.61,464.90 179.39,464.85 180.17,464.79 180.95,464.74 181.74,464.68 182.52,464.63 183.30,464.58 184.08,464.53 184.86,464.49 185.64,464.44 186.42,464.40 187.20,464.35 187.98,464.31 188.76,464.27 189.55,464.23 190.33,464.19 191.11,464.16 191.89,464.12 192.67,464.09 193.45,464.05 194.23,464.02 195.01,463.99 195.79,463.96 196.57,463.93 197.36,463.90 198.14,463.87 198.92,463.84 199.70,463.81 200.48,463.79 201.26,463.76 202.04,463.74 202.82,463.71 203.60,463.69 204.38,463.67 205.17,463.65 205.95,463.63 206.73,463.60 207.51,463.58 208.29,463.57 209.07,463.55 209.85,463.53 210.63,463.51 211.41,463.49 212.20,463.48 212.98,463.46 213.76,463.44 214.54,463.43 215.32,463.41 216.10,463.40 216.88,463.39 217.66,463.37 218.44,463.36 219.22,463.35 220.01,463.33 220.79,463.32 221.57,463.31 222.35,463.30 223.13,463.29 223.91,463.28 224.69,463.27 225.47,463.26 226.25,463.25 227.03,463.24 227.82,463.23 228.60,463.22 229.38,463.21 230.16,463.20 230.94,463.19 231.72,463.19 232.50,463.18 233.28,463.17 234.06,463.16 234.84,463.16 235.63,463.15 236.41,463.14 237.19,463.14 237.97,463.13 238.75,463.12 239.53,463.12 240.31,463.11 241.09,463.11 241.87,463.10 242.65,463.09 243.44,463.09 244.22,463.08 245.00,463.08 245.78,463.08 246.56,463.07 247.34,463.07 248.12,463.06 248.90,463.06 249.68,463.05 250.46,463.05 251.25,463.05 252.03,463.04 252.81,463.04 253.59,463.03 254.37,463.03 255.15,463.03 255.93,463.03 256.71,463.02 257.49,463.02 258.27,463.02 259.06,463.01 259.84,463.01 260.62,463.01 261.40,463.01 262.18,463.00 262.96,463.00 263.74,463.00 264.52,463.00 265.30,462.99 266.08,462.99 266.87,462.99 267.65,462.99 268.43,462.98 269.21,462.98 269.99,462.98 270.77,462.98 271.55,462.98 272.33,462.98 273.11,462.97 273.89,462.97 274.68,462.97 275.46,462.97 276.24,462.97 277.02,462.97 277.80,462.96 278.58,462.96 279.36,462.96 280.14,462.96 280.92,462.96 281.70,462.96 282.49,462.96 283.27,462.96 284.05,462.96 284.83,462.95 285.61,462.95 286.39,462.95 287.17,462.95 287.95,462.95 288.73,462.95 289.51,462.95 290.30,462.95 291.08,462.95 291.86,462.95 292.64,462.94 293.42,462.94 294.20,462.94" stroke="#2f63a3" stroke-width="1.6" fill="none"/>
<polyline points="59.90,649.50 60.68,644.45 61.46,639.57 62.24,634.85 63.02,630.28 63.80,625.88 64.59,621.61 65.37,617.49 66.15,613.51 66.93,609.66 67.71,605.94 68.49,602.35 69.27,598.87 70.05,595.51 70.83,592.27 71.61,589.13 72.40,586.10 73.18,583.16 73.96,580.33 74.74,577.59 75.52,574.94 76.30,572.38 77.08,569.91 77.86,567.52 78.64,565.21 79.43,562.97 80.21,560.81 80.99,558.73 81.77,556.71 82.55,554.76 83.33,552.88 84.11,551.05 84.89,549.29 85.67,547.59 86.45,545.95 87.24,544.36 88.02,542.82 88.80,541.33 89.58,539.90 90.36,538.51 91.14,537.17 91.92,535.87 92.70,534.62 93.48,533.41 94.26,532.24 95.04,531.11 95.83,530.01 96.61,528.95 97.39,527.93 98.17,526.95 98.95,525.99 99.73,525.07 100.51,524.18 101.29,523.31 102.07,522.48 102.85,521.67 103.64,520.90 104.42,520.14 105.20,519.42 105.98,518.71 106.76,518.03 107.54,517.38 108.32,516.74 109.10,516.13 109.88,515.53 110.66,514.96 111.45,514.41 112.23,513.87 113.01,513.35 113.79,512.85 114.57,512.37 115.35,511.90 116.13,511.45 116.91,511.01 117.69,510.59 118.47,510.18 119.26,509.79 120.04,509.41 120.82,509.04 121.60,508.68 122.38,508.34 123.16,508.01 123.94,507.68 124.72,507.37 125.50,507.07 126.28,506.78 127.07,506.50 127.85,506.23 128.63,505.97 129.41,505.71 130.19,505.47 130.97,505.23 131.75,505.00 132.53,504.78 133.31,504.57 134.09,504.36 134.88,504.16 135.66,503.97 136.44,503.78 137.22,503.60 138.00,503.43 138.78,503.26 139.56,503.10 140.34,502.94 141.12,502.79 141.90,502.64 142.69,502.50 143.47,502.36 144.25,502.23 145.03,502.10 145.81,501.97 146.59,501.85 147.37,501.74 148.15,501.63 148.93,501.52 149.71,501.41 150.50,501.31 151.28,501.21 152.06,501.12 152.84,501.03 153.62,500.94 154.40,500.85 155.18,500.77 155.96,500.69 156.74,500.61 157.52,500.54 158.31,500.47 159.09,500.40 159.87,500.33 160.65,500.27 161.43,500.20 162.21,500.14 162.99,500.08 163.77,500.03 164.55,499.97 165.33,499.92 166.12,499.87 166.90,499.82 167.68,499.77 168.46,499.72 169.24,499.68 170.02,499.64 170.80,499.59 171.58,499.55 172.36,499.51 173.14,499.48 173.93,499.44 174.71,499.40 175.49,499.37 176.27,499.34 177.05,499.31 177.83,499.27 178.61,499.24 179.39,499.22 180.17,499.19 180.95,499.16 181.74,499.14 182.52,499.11 183.30,499.09 184.08,499.06 184.86,499.04 185.64,499.02 186.42,499.00 187.20,498.98 187.98,498.96 188.76,498.94 189.55,498.92 190.33,498.90 191.11,498.88 191.89,498.87 192.67,498.85 193.45,498.84 194.23,498.82 195.01,498.81 195.79,498.79 196.57,498.78 197.36,498.76 198.14,498.75 198.92,498.74 199.70,498.73 200.48,498.72 201.26,498.71 202.04,498.69 202.82,498.68 203.60,498.67 204.38,498.66 205.17,498.65 205.95,498.65 206.73,498.64 207.51,498.63 208.29,498.62 209.07,498.61 209.85,498.60 210.63,498.60 211.41,498.59 212.20,498.58 212.98,498.58 213.76,498.57 214.54,498.56 215.32,498.56 216.10,498.55 216.88,498.55 217.66,498.54 218.44,498.54 219.22,498.53 220.01,498.53 220.79,498.52 221.57,498.52 222.35,498.51 223.13,498.51 223.91,498.50 224.69,498.50 225.47,498.50 226.25,498.49 227.03,498.49 227.82,498.49 228.60,498.48 229.38,498.48 230.16,498.48 230.94,498.47 231.72,498.47 232.50,498.47 233.28,498.46 234.06,498.46 234.84,498.46 235.63,498.46 236.41,498.45 237.19,498.45 237.97,498.45 238.75,498.45 239.53,498.44 240.31,498.44 241.09,498.44 241.87,498.44 242.65,498.44 243.44,498.44 244.22,498.43 245.00,498.43 245.78,498.43 246.56,498.43 247.34,498.43 248.12,498.43 248.90,498.42 249.68,498.42 250.46,498.42 251.25,498.42 252.03,498.42 252.81,498.42 253.59,498.42 254.37,498.42 255.15,498.41 255.93,498.41 256.71,498.41 257.49,498.41 258.27,498.41 259.06,498.41 259.84,498.41 260.62,498.41 261.40,498.41 262.18,498.41 262.96,498.41 263.74,498.41 264.52,498.40 265.30,498.40 266.08,498.40 266.87,498.40 267.65,498.40 268.43,498.40 269.21,498.40 269.99,498.40 270.77,498.40 271.55,498.40 272.33,498.40 273.11,498.40 273.89,498.40 274.68,498.40 275.46,498.40 276.24,498.40 277.02,498.40 277.80,498.40 278.58,498.40 279.36,498.39 280.14,498.39 280.92,498.39 281.70,498.39 282.49,498.39 283.27,498.39 284.05,498.39 284.83,498.39 285.61,498.39 286.39,498.39 287.17,498.39 287.95,498.39 288.73,498.39 289.51,498.39 290.30,498.39 291.08,498.39 291.86,498.39 292.64,498.39 293.42,498.39 294.20,498.39" stroke="#9b45b5" stroke-width="1.6" fill="none"/>
<polyline points="59.90,649.50 60.68,646.08 61.46,642.74 62.24,639.47 63.02,636.27 63.80,633.15 64.59,630.09 65.37,627.10 66.15,624.18 66.93,621.33 67.71,618.53 68.49,615.80 69.27,613.13 70.05,610.52 70.83,607.97 71.61,605.48 72.40,603.04 73.18,600.65 73.96,598.32 74.74,596.04 75.52,593.81 76.30,591.63 77.08,589.50 77.86,587.41 78.64,585.37 79.43,583.38 80.21,581.43 80.99,579.53 81.77,577.67 82.55,575.84 83.33,574.06 84.11,572.32 84.89,570.62 85.67,568.96 86.45,567.33 87.24,565.74 88.02,564.18 88.80,562.66 89.58,561.17 90.36,559.72 91.14,558.30 91.92,556.91 92.70,555.55 93.48,554.22 94.26,552.92 95.04,551.65 95.83,550.41 96.61,549.19 97.39,548.01 98.17,546.84 98.95,545.71 99.73,544.60 100.51,543.51 101.29,542.45 102.07,541.41 102.85,540.40 103.64,539.41 104.42,538.44 105.20,537.49 105.98,536.56 106.76,535.66 107.54,534.77 108.32,533.90 109.10,533.06 109.88,532.23 110.66,531.42 111.45,530.62 112.23,529.85 113.01,529.09 113.79,528.35 114.57,527.63 115.35,526.92 116.13,526.23 116.91,525.55 117.69,524.89 118.47,524.24 119.26,523.61 120.04,522.99 120.82,522.39 121.60,521.80 122.38,521.22 123.16,520.65 123.94,520.10 124.72,519.56 125.50,519.03 126.28,518.52 127.07,518.01 127.85,517.52 128.63,517.03 129.41,516.56 130.19,516.10 130.97,515.65 131.75,515.21 132.53,514.78 133.31,514.35 134.09,513.94 134.88,513.54 135.66,513.14 136.44,512.76 137.22,512.38 138.00,512.01 138.78,511.65 139.56,511.30 140.34,510.96 141.12,510.62 141.90,510.29 142.69,509.97 143.47,509.65 144.25,509.34 145.03,509.04 145.81,508.75 146.59,508.46 147.37,508.18 148.15,507.90 148.93,507.64 149.71,507.37 150.50,507.12 151.28,506.86 152.06,506.62 152.84,506.38 153.62,506.14 154.40,505.91 155.18,505.69 155.96,505.47 156.74,505.25 157.52,505.04 158.31,504.84 159.09,504.64 159.87,504.44 160.65,504.25 161.43,504.06 162.21,503.88 162.99,503.70 163.77,503.52 164.55,503.35 165.33,503.18 166.12,503.02 166.90,502.86 167.68,502.70 168.46,502.55 169.24,502.40 170.02,502.25 170.80,502.11 171.58,501.97 172.36,501.83 173.14,501.70 173.93,501.57 174.71,501.44 175.49,501.31 176.27,501.19 177.05,501.07 177.83,500.96 178.61,500.84 179.39,500.73 180.17,500.62 180.95,500.51 181.74,500.41 182.52,500.31 183.30,500.21 184.08,500.11 184.86,500.01 185.64,499.92 186.42,499.83 187.20,499.74 187.98,499.65 188.76,499.57 189.55,499.48 190.33,499.40 191.11,499.32 191.89,499.24 192.67,499.17 193.45,499.09 194.23,499.02 195.01,498.95 195.79,498.88 196.57,498.81 197.36,498.74 198.14,498.68 198.92,498.61 199.70,498.55 200.48,498.49 201.26,498.43 202.04,498.37 202.82,498.32 203.60,498.26 204.38,498.21 205.17,498.15 205.95,498.10 206.73,498.05 207.51,498.00 208.29,497.95 209.07,497.90 209.85,497.86 210.63,497.81 211.41,497.77 212.20,497.72 212.98,497.68 213.76,497.64 214.54,497.60 215.32,497.56 216.10,497.52 216.88,497.48 217.66,497.45 218.44,497.41 219.22,497.37 220.01,497.34 220.79,497.31 221.57,497.27 222.35,497.24 223.13,497.21 223.91,497.18 224.69,497.15 225.47,497.12 226.25,497.09 227.03,497.06 227.82,497.03 228.60,497.01 229.38,496.98 230.16,496.95 230.94,496.93 231.72,496.90 232.50,496.88 233.28,496.85 234.06,496.83 234.84,496.81 235.63,496.79 236.41,496.77 237.19,496.74 237.97,496.72 238.75,496.70 239.53,496.68 240.31,496.66 241.09,496.65 241.87,496.63 242.65,496.61 243.44,496.59 244.22,496.57 245.00,496.56 245.78,496.54 246.56,496.52 247.34,496.51 248.12,496.49 248.90,496.48 249.68,496.46 250.46,496.45 251.25,496.43 252.03,496.42 252.81,496.41 253.59,496.39 254.37,496.38 255.15,496.37 255.93,496.36 256.71,496.34 257.49,496.33 258.27,496.32 259.06,496.31 259.84,496.30 260.62,496.29 261.40,496.28 262.18,496.27 262.96,496.26 263.74,496.25 264.52,496.24 265.30,496.23 266.08,496.22 266.87,496.21 267.65,496.20 268.43,496.19 269.21,496.18 269.99,496.18 270.77,496.17 271.55,496.16 272.33,496.15 273.11,496.14 273.89,496.14 274.68,496.13 275.46,496.12 276.24,496.12 277.02,496.11 277.80,496.10 278.58,496.10 279.36,496.09 280.14,496.08 280.92,496.08 281.70,496.07 282.49,496.07 283.27,496.06 284.05,496.06 284.83,496.05 285.61,496.04 286.39,496.04 287.17,496.03 287.95,496.03 288.73,496.02 289.51,496.02 290.30,496.02 291.08,496.01 291.86,496.01 292.64,496.00 293.42,496.00 294.20,495.99" stroke="#e0782f" stroke-width="1.6" fill="none"/>
<polyline points="62.63,649.50 63.41,648.60 64.20,647.72 64.98,646.86 65.76,646.02 66.54,645.20 67.32,644.40 68.10,643.62 68.88,642.86 69.66,642.11 70.44,641.38 71.22,640.67 72.01,639.98 72.79,639.31 73.57,638.65 74.35,638.00 75.13,637.37 75.91,636.76 76.69,636.16 77.47,635.57 78.25,635.00 79.03,634.44 79.82,633.90 80.60,633.37 81.38,632.85 82.16,632.34 82.94,631.84 83.72,631.36 84.50,630.89 85.28,630.43 86.06,629.98 86.84,629.54 87.63,629.11 88.41,628.69 89.19,628.28 89.97,627.88 90.75,627.50 91.53,627.11 92.31,626.74 93.09,626.38 93.87,626.03 94.65,625.68 95.44,625.35 96.22,625.02 97.00,624.69 97.78,624.38 98.56,624.07 99.34,623.78 100.12,623.48 100.90,623.20 101.68,622.92 102.46,622.65 103.25,622.38 104.03,622.12 104.81,621.87 105.59,621.62 106.37,621.38 107.15,621.15 107.93,620.92 108.71,620.69 109.49,620.48 110.27,620.26 111.06,620.05 111.84,619.85 112.62,619.65 113.40,619.46 114.18,619.27 114.96,619.08 115.74,618.90 116.52,618.73 117.30,618.55 118.08,618.38 118.87,618.22 119.65,618.06 120.43,617.90 121.21,617.75 121.99,617.60 122.77,617.46 123.55,617.31 124.33,617.18 125.11,617.04 125.89,616.91 126.68,616.78 127.46,616.65 128.24,616.53 129.02,616.41 129.80,616.29 130.58,616.18 131.36,616.07 132.14,615.96 132.92,615.85 133.70,615.75 134.49,615.64 135.27,615.55 136.05,615.45 136.83,615.35 137.61,615.26 138.39,615.17 139.17,615.08 139.95,615.00 140.73,614.91 141.51,614.83 142.30,614.75 143.08,614.67 143.86,614.60 144.64,614.52 145.42,614.45 146.20,614.38 146.98,614.31 147.76,614.24 148.54,614.18 149.32,614.11 150.11,614.05 150.89,613.99 151.67,613.93 152.45,613.87 153.23,613.81 154.01,613.76 154.79,613.70 155.57,613.65 156.35,613.60 157.13,613.55 157.92,613.50 158.70,613.45 159.48,613.40 160.26,613.36 161.04,613.31 161.82,613.27 162.60,613.23 163.38,613.18 164.16,613.14 164.94,613.10 165.73,613.06 166.51,613.03 167.29,612.99 168.07,612.95 168.85,612.92 169.63,612.88 170.41,612.85 171.19,612.82 171.97,612.79 172.75,612.75 173.54,612.72 174.32,612.69 175.10,612.66 175.88,612.64 176.66,612.61 177.44,612.58 178.22,612.55 179.00,612.53 179.78,612.50 180.56,612.48 181.35,612.45 182.13,612.43 182.91,612.41 183.69,612.39 184.47,612.36 185.25,612.34 186.03,612.32 186.81,612.30 187.59,612.28 188.37,612.26 189.16,612.24 189.94,612.22 190.72,612.21 191.50,612.19 192.28,612.17 193.06,612.16 193.84,612.14 194.62,612.12 195.40,612.11 196.18,612.09 196.97,612.08 197.75,612.06 198.53,612.05 199.31,612.03 200.09,612.02 200.87,612.01 201.65,611.99 202.43,611.98 203.21,611.97 203.99,611.96 204.78,611.95 205.56,611.93 206.34,611.92 207.12,611.91 207.90,611.90 208.68,611.89 209.46,611.88 210.24,611.87 211.02,611.86 211.80,611.85 212.59,611.84 213.37,611.83 214.15,611.83 214.93,611.82 215.71,611.81 216.49,611.80 217.27,611.79 218.05,611.78 218.83,611.78 219.61,611.77 220.40,611.76 221.18,611.76 221.96,611.75 222.74,611.74 223.52,611.74 224.30,611.73 225.08,611.72 225.86,611.72 226.64,611.71 227.42,611.70 228.21,611.70 228.99,611.69 229.77,611.69 230.55,611.68 231.33,611.68 232.11,611.67 232.89,611.67 233.67,611.66 234.45,611.66 235.23,611.65 236.02,611.65 236.80,611.64 237.58,611.64 238.36,611.64 239.14,611.63 239.92,611.63 240.70,611.62 241.48,611.62 242.26,611.62 243.04,611.61 243.83,611.61 244.61,611.61 245.39,611.60 246.17,611.60 246.95,611.60 247.73,611.59 248.51,611.59 249.29,611.59 250.07,611.58 250.85,611.58 251.64,611.58 252.42,611.58 253.20,611.57 253.98,611.57 254.76,611.57 255.54,611.57 256.32,611.56 257.10,611.56 257.88,611.56 258.66,611.56 259.45,611.55 260.23,611.55 261.01,611.55 261.79,611.55 262.57,611.55 263.35,611.54 264.13,611.54 264.91,611.54 265.69,611.54 266.47,611.54 267.26,611.53 268.04,611.53 268.82,611.53 269.60,611.53 270.38,611.53 271.16,611.53 271.94,611.53 272.72,611.52 273.50,611.52 274.28,611.52 275.07,611.52 275.85,611.52 276.63,611.52 277.41,611.52 278.19,611.51 278.97,611.51 279.75,611.51 280.53,611.51 281.31,611.51 282.09,611.51 282.88,611.51 283.66,611.51 284.44,611.51 285.22,611.50 286.00,611.50 286.78,611.50 287.56,611.50 288.34,611.50 289.12,611.50 289.90,611.50 290.69,611.50 291.47,611.50 292.25,611.50 293.03,611.50 293.81,611.50" stroke="#4b8b3b" stroke-width="1.6" fill="none"/>
<polyline points="61.85,649.50 62.63,648.76 63.41,648.04 64.20,647.33 64.98,646.63 65.76,645.95 66.54,645.29 67.32,644.63 68.10,643.99 68.88,643.36 69.66,642.75 70.44,642.14 71.22,641.55 72.01,640.97 72.79,640.40 73.57,639.84 74.35,639.29 75.13,638.76 75.91,638.23 76.69,637.72 77.47,637.21 78.25,636.72 79.03,636.24 79.82,635.76 80.60,635.29 81.38,634.84 82.16,634.39 82.94,633.95 83.72,633.52 84.50,633.10 85.28,632.69 86.06,632.28 86.84,631.88 87.63,631.50 88.41,631.11 89.19,630.74 89.97,630.37 90.75,630.01 91.53,629.66 92.31,629.32 93.09,628.98 93.87,628.65 94.65,628.32 95.44,628.00 96.22,627.69 97.00,627.39 97.78,627.09 98.56,626.79 99.34,626.50 100.12,626.22 100.90,625.94 101.68,625.67 102.46,625.41 103.25,625.15 104.03,624.89 104.81,624.64 105.59,624.39 106.37,624.15 107.15,623.92 107.93,623.69 108.71,623.46 109.49,623.24 110.27,623.02 111.06,622.81 111.84,622.60 112.62,622.39 113.40,622.19 114.18,621.99 114.96,621.80 115.74,621.61 116.52,621.42 117.30,621.24 118.08,621.06 118.87,620.89 119.65,620.72 120.43,620.55 121.21,620.39 121.99,620.22 122.77,620.07 123.55,619.91 124.33,619.76 125.11,619.61 125.89,619.46 126.68,619.32 127.46,619.18 128.24,619.04 129.02,618.91 129.80,618.78 130.58,618.65 131.36,618.52 132.14,618.39 132.92,618.27 133.70,618.15 134.49,618.04 135.27,617.92 136.05,617.81 136.83,617.70 137.61,617.59 138.39,617.48 139.17,617.38 139.95,617.28 140.73,617.18 141.51,617.08 142.30,616.98 143.08,616.89 143.86,616.80 144.64,616.71 145.42,616.62 146.20,616.53 146.98,616.45 147.76,616.36 148.54,616.28 149.32,616.20 150.11,616.12 150.89,616.05 151.67,615.97 152.45,615.90 153.23,615.82 154.01,615.75 154.79,615.68 155.57,615.62 156.35,615.55 157.13,615.48 157.92,615.42 158.70,615.36 159.48,615.29 160.26,615.23 161.04,615.17 161.82,615.12 162.60,615.06 163.38,615.00 164.16,614.95 164.94,614.89 165.73,614.84 166.51,614.79 167.29,614.74 168.07,614.69 168.85,614.64 169.63,614.59 170.41,614.55 171.19,614.50 171.97,614.46 172.75,614.41 173.54,614.37 174.32,614.33 175.10,614.29 175.88,614.24 176.66,614.21 177.44,614.17 178.22,614.13 179.00,614.09 179.78,614.05 180.56,614.02 181.35,613.98 182.13,613.95 182.91,613.91 183.69,613.88 184.47,613.85 185.25,613.82 186.03,613.78 186.81,613.75 187.59,613.72 188.37,613.69 189.16,613.67 189.94,613.64 190.72,613.61 191.50,613.58 192.28,613.56 193.06,613.53 193.84,613.50 194.62,613.48 195.40,613.45 196.18,613.43 196.97,613.41 197.75,613.38 198.53,613.36 199.31,613.34 200.09,613.32 200.87,613.29 201.65,613.27 202.43,613.25 203.21,613.23 203.99,613.21 204.78,613.19 205.56,613.17 206.34,613.16 207.12,613.14 207.90,613.12 208.68,613.10 209.46,613.09 210.24,613.07 211.02,613.05 211.80,613.04 212.59,613.02 213.37,613.00 214.15,612.99 214.93,612.97 215.71,612.96 216.49,612.95 217.27,612.93 218.05,612.92 218.83,612.90 219.61,612.89 220.40,612.88 221.18,612.87 221.96,612.85 222.74,612.84 223.52,612.83 224.30,612.82 225.08,612.81 225.86,612.79 226.64,612.78 227.42,612.77 228.21,612.76 228.99,612.75 229.77,612.74 230.55,612.73 231.33,612.72 232.11,612.71 232.89,612.70 233.67,612.69 234.45,612.68 235.23,612.67 236.02,612.67 236.80,612.66 237.58,612.65 238.36,612.64 239.14,612.63 239.92,612.62 240.70,612.62 241.48,612.61 242.26,612.60 243.04,612.59 243.83,612.59 244.61,612.58 245.39,612.57 246.17,612.57 246.95,612.56 247.73,612.55 248.51,612.55 249.29,612.54 250.07,612.54 250.85,612.53 251.64,612.52 252.42,612.52 253.20,612.51 253.98,612.51 254.76,612.50 255.54,612.50 256.32,612.49 257.10,612.49 257.88,612.48 258.66,612.48 259.45,612.47 260.23,612.47 261.01,612.46 261.79,612.46 262.57,612.45 263.35,612.45 264.13,612.44 264.91,612.44 265.69,612.44 266.47,612.43 267.26,612.43 268.04,612.42 268.82,612.42 269.60,612.42 270.38,612.41 271.16,612.41 271.94,612.41 272.72,612.40 273.50,612.40 274.28,612.40 275.07,612.39 275.85,612.39 276.63,612.39 277.41,612.38 278.19,612.38 278.97,612.38 279.75,612.38 280.53,612.37 281.31,612.37 282.09,612.37 282.88,612.36 283.66,612.36 284.44,612.36 285.22,612.36 286.00,612.35 286.78,612.35 287.56,612.35 288.34,612.35 289.12,612.35 289.90,612.34 290.69,612.34 291.47,612.34 292.25,612.34 293.03,612.34 293.81,612.33" stroke="#b23a96" stroke-width="1.6" fill="none"/>
<circle cx="61.85" cy="649.50" r="2.3" fill="#2f63a3"/>
<circle cx="63.80" cy="610.95" r="2.3" fill="#2f63a3"/>
<circle cx="67.71" cy="592.96" r="2.3" fill="#2f63a3"/>
<circle cx="79.42" cy="541.30" r="2.3" fill="#2f63a3"/>
<circle cx="98.95" cy="516.89" r="2.3" fill="#2f63a3"/>
<circle cx="177.05" cy="473.71" r="2.3" fill="#2f63a3"/>
<circle cx="294.20" cy="450.58" r="2.3" fill="#2f63a3"/>
<rect x="59.55" y="647.20" width="4.6" height="4.6" fill="#9b45b5"/>
<rect x="61.51" y="628.70" width="4.6" height="4.6" fill="#9b45b5"/>
<rect x="65.41" y="607.11" width="4.6" height="4.6" fill="#9b45b5"/>
<rect x="77.12" y="563.93" width="4.6" height="4.6" fill="#9b45b5"/>
<rect x="96.65" y="526.41" width="4.6" height="4.6" fill="#9b45b5"/>
<rect x="174.75" y="498.14" width="4.6" height="4.6" fill="#9b45b5"/>
<rect x="291.90" y="495.06" width="4.6" height="4.6" fill="#9b45b5"/>
<path d="M61.85,646.70 L64.45,651.40 L59.25,651.40Z" fill="#e0782f"/>
<path d="M63.80,637.45 L66.41,642.15 L61.20,642.15Z" fill="#e0782f"/>
<path d="M67.71,619.97 L70.31,624.67 L65.11,624.67Z" fill="#e0782f"/>
<path d="M79.42,578.34 L82.02,583.04 L76.83,583.04Z" fill="#e0782f"/>
<path d="M98.95,548.53 L101.55,553.23 L96.35,553.23Z" fill="#e0782f"/>
<path d="M177.05,503.81 L179.65,508.51 L174.45,508.51Z" fill="#e0782f"/>
<path d="M294.20,489.42 L296.80,494.12 L291.60,494.12Z" fill="#e0782f"/>
<path d="M63.80,646.90 L66.20,649.50 L63.80,652.10 L61.41,649.50Z" fill="#4b8b3b"/>
<path d="M67.71,644.48 L70.11,647.08 L67.71,649.68 L65.31,647.08Z" fill="#4b8b3b"/>
<path d="M79.42,629.42 L81.83,632.02 L79.42,634.62 L77.02,632.02Z" fill="#4b8b3b"/>
<path d="M98.95,620.69 L101.35,623.29 L98.95,625.89 L96.55,623.29Z" fill="#4b8b3b"/>
<path d="M177.05,610.41 L179.45,613.01 L177.05,615.61 L174.65,613.01Z" fill="#4b8b3b"/>
<path d="M294.20,608.35 L296.60,610.95 L294.20,613.55 L291.80,610.95Z" fill="#4b8b3b"/>
<path d="M63.80,652.30 L66.41,647.60 L61.20,647.60Z" fill="#b23a96"/>
<path d="M67.71,647.16 L70.31,642.46 L65.11,642.46Z" fill="#b23a96"/>
<path d="M79.42,636.62 L82.02,631.92 L76.83,631.92Z" fill="#b23a96"/>
<path d="M98.95,630.20 L101.55,625.50 L96.35,625.50Z" fill="#b23a96"/>
<path d="M177.05,618.38 L179.65,613.68 L174.45,613.68Z" fill="#b23a96"/>
<path d="M294.20,612.41 L296.80,607.71 L291.60,607.71Z" fill="#b23a96"/>
<circle cx="61.85" cy="649.50" r="2.3" fill="#2f63a3"/>
<text x="300.20" y="464.00" font-size="9.5" fill="#2c4f8c" stroke="#2c4f8c" stroke-width="0.12">MC4100</text>
<text x="300.40" y="491.80" font-size="9.5" fill="#d9783a" stroke="#d9783a" stroke-width="0.12">TN101</text>
<text x="301.00" y="509.90" font-size="9.5" fill="#8a3ab0" stroke="#8a3ab0" stroke-width="0.12">NR698</text>
<text x="300.40" y="612.80" font-size="9.5" fill="#4b8b3b" stroke="#4b8b3b" stroke-width="0.12">TN103</text>
<text x="300.40" y="626.40" font-size="9.5" fill="#b23a96" stroke="#b23a96" stroke-width="0.12">TN102</text>
<path d="M380.7,469.9 V616.7 M435.6,469.9 V616.7 M499.6,469.9 V616.7 M549.7,469.9 V616.7 M614.3,469.9 V616.7 M668.2,469.9 V616.7 M380.09999999999997,470.5 H668.8000000000001 M380.09999999999997,489.2 H668.8000000000001 M380.09999999999997,514.9 H668.8000000000001 M380.09999999999997,540.2 H668.8000000000001 M380.09999999999997,565.4 H668.8000000000001 M380.09999999999997,591.1 H668.8000000000001 M380.09999999999997,616.1 H668.8000000000001" stroke="#2b2b2b" stroke-width="1.2" fill="none"/>
<text x="388.00" y="484.00" font-size="9.6" fill="#1a1a1a" stroke="#1a1a1a" stroke-width="0.12">OM</text>
<text x="442.90" y="484.00" font-size="9.6" fill="#1a1a1a" stroke="#1a1a1a" stroke-width="0.12"><tspan font-style="italic">k</tspan> (min<tspan font-size="6.5" dy="-3.5">-1</tspan><tspan dy="3.5">)</tspan></text>
<text x="506.90" y="484.00" font-size="9.6" fill="#1a1a1a" stroke="#1a1a1a" stroke-width="0.12">p value</text>
<text x="557.00" y="484.00" font-size="9.6" fill="#1a1a1a" stroke="#1a1a1a" stroke-width="0.12"><tspan font-style="italic">t</tspan><tspan font-style="italic" font-size="7" dy="2">1/2</tspan><tspan dy="-2"> (min)</tspan></text>
<text x="621.60" y="484.00" font-size="9.6" fill="#1a1a1a" stroke="#1a1a1a" stroke-width="0.12">p value</text>
<text x="388.00" y="503.10" font-size="9.6" fill="#1a1a1a" stroke="#1a1a1a" stroke-width="0.12">MC4100</text>
<text x="442.90" y="503.10" font-size="9.6" fill="#1a1a1a" stroke="#1a1a1a" stroke-width="0.12">0.30 <tspan text-decoration="underline">+</tspan> 0.04</text>
<text x="506.90" y="503.10" font-size="9.6" fill="#1a1a1a" stroke="#1a1a1a" stroke-width="0.12">-</text>
<text x="557.00" y="503.10" font-size="9.6" fill="#1a1a1a" stroke="#1a1a1a" stroke-width="0.12">2.39 <tspan text-decoration="underline">+</tspan> 0.21</text>
<text x="621.60" y="503.10" font-size="9.6" fill="#1a1a1a" stroke="#1a1a1a" stroke-width="0.12">-</text>
<text x="388.00" y="528.80" font-size="9.6" fill="#1a1a1a" stroke="#1a1a1a" stroke-width="0.12">NR698</text>
<text x="442.90" y="528.80" font-size="9.6" fill="#1a1a1a" stroke="#1a1a1a" stroke-width="0.12">0.34 <tspan text-decoration="underline">+</tspan> 0.06</text>
<text x="506.90" y="528.80" font-size="9.6" fill="#1a1a1a" stroke="#1a1a1a" stroke-width="0.12">0.59</text>
<text x="557.00" y="528.80" font-size="9.6" fill="#1a1a1a" stroke="#1a1a1a" stroke-width="0.12">2.07 <tspan text-decoration="underline">+</tspan> 0.14</text>
<text x="621.60" y="528.80" font-size="9.6" fill="#1a1a1a" stroke="#1a1a1a" stroke-width="0.12">0.67</text>
<text x="388.00" y="554.10" font-size="9.6" fill="#1a1a1a" stroke="#1a1a1a" stroke-width="0.12">TN101</text>
<text x="442.90" y="554.10" font-size="9.6" fill="#1a1a1a" stroke="#1a1a1a" stroke-width="0.12">0.23 <tspan text-decoration="underline">+</tspan> 0.02</text>
<text x="506.90" y="554.10" font-size="9.6" fill="#1a1a1a" stroke="#1a1a1a" stroke-width="0.12">0.28</text>
<text x="557.00" y="554.10" font-size="9.6" fill="#1a1a1a" stroke="#1a1a1a" stroke-width="0.12">3.03 <tspan text-decoration="underline">+</tspan> 0.24</text>
<text x="621.60" y="554.10" font-size="9.6" fill="#1a1a1a" stroke="#1a1a1a" stroke-width="0.12">0.12</text>
<text x="388.00" y="579.30" font-size="9.6" fill="#1a1a1a" stroke="#1a1a1a" stroke-width="0.12">TN102</text>
<text x="442.90" y="579.30" font-size="9.6" fill="#1a1a1a" stroke="#1a1a1a" stroke-width="0.12">0.20 <tspan text-decoration="underline">+</tspan> 0.03</text>
<text x="506.90" y="579.30" font-size="9.6" fill="#1a1a1a" stroke="#1a1a1a" stroke-width="0.12">0.04</text>
<text x="557.00" y="579.30" font-size="9.6" fill="#1a1a1a" stroke="#1a1a1a" stroke-width="0.12">3.56 <tspan text-decoration="underline">+</tspan> 0.22</text>
<text x="621.60" y="579.30" font-size="9.6" fill="#1a1a1a" stroke="#1a1a1a" stroke-width="0.12">&lt;0.01</text>
<text x="388.00" y="605.00" font-size="9.6" fill="#1a1a1a" stroke="#1a1a1a" stroke-width="0.12">TN103</text>
<text x="442.90" y="605.00" font-size="9.6" fill="#1a1a1a" stroke="#1a1a1a" stroke-width="0.12">0.25 <tspan text-decoration="underline">+</tspan> 0.03</text>
<text x="506.90" y="605.00" font-size="9.6" fill="#1a1a1a" stroke="#1a1a1a" stroke-width="0.12">0.52</text>
<text x="557.00" y="605.00" font-size="9.6" fill="#1a1a1a" stroke="#1a1a1a" stroke-width="0.12">2.84 <tspan text-decoration="underline">+</tspan> 0.20</text>
<text x="621.60" y="605.00" font-size="9.6" fill="#1a1a1a" stroke="#1a1a1a" stroke-width="0.12">0.38</text>
</svg>
</body></html>
